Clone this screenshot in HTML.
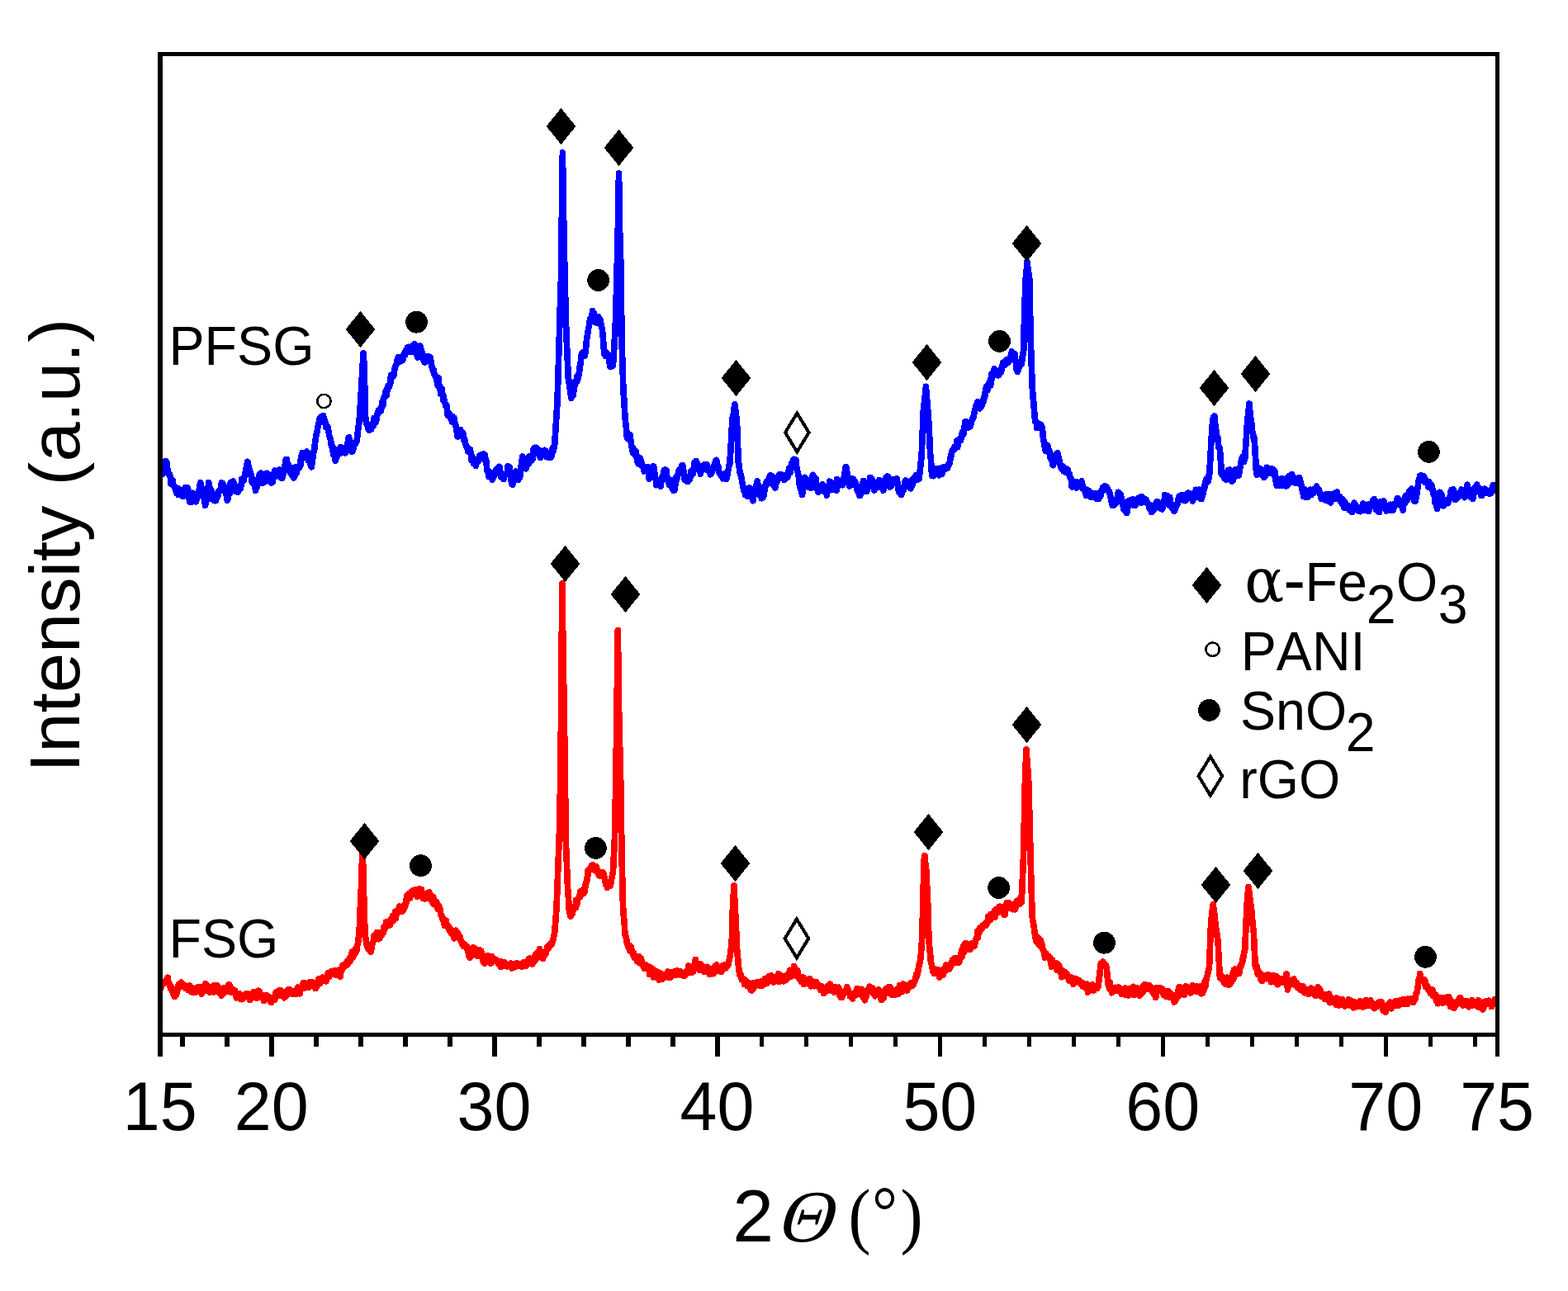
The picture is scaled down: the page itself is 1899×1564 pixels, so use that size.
<!DOCTYPE html>
<html lang="en"><head><meta charset="utf-8"><title>XRD patterns of PFSG and FSG</title>
<style>
html,body{margin:0;padding:0;background:#fff;}
body{width:1899px;height:1564px;overflow:hidden;}
svg{display:block;}
text{font-family:"Liberation Sans",Arial,Helvetica,sans-serif;fill:#000;font-kerning:none;}
.sym{font-family:"Liberation Serif","DejaVu Serif",serif;}
.dsym{font-family:"DejaVu Serif","Liberation Serif",serif;}
.curve{fill:none;stroke-width:7.7;stroke-linejoin:round;stroke-linecap:butt;}
</style></head><body>
<svg width="1899" height="1564" viewBox="0 0 1899 1564" role="img" aria-label="XRD patterns of PFSG and FSG">
<rect x="0" y="0" width="1899" height="1564" fill="#fff"/>
<g id="curves" shape-rendering="crispEdges">
<polyline class="curve" stroke="#0000ff" points="194.3,576.3 194.98,571.3 195.66,574.2 196.34,574.3 197.02,568.5 197.7,564.7 198.38,566.6 199.06,566.6 199.74,566.7 200.42,558.7 201.1,560.5 201.76,559.1 202.43,567 203.09,568.5 203.75,573.7 204.41,574.4 205.07,573.6 205.74,575.4 206.4,578.4 207.05,586.1 207.7,580.8 208.35,581 209,581.6 209.65,586.6 210.3,588.3 210.95,588.5 211.6,591.1 212.26,591.8 212.93,593.7 213.59,595.8 214.25,597.8 214.91,596.2 215.57,591.6 216.24,599.5 216.9,598.4 217.56,594.2 218.22,597.4 218.89,593.5 219.55,597.4 220.21,594.9 220.88,597.4 221.54,601.4 222.2,596.3 222.86,595.5 223.52,597.4 224.19,590.6 224.85,592.9 225.51,594.9 226.18,592.1 226.84,592.8 227.5,591.1 228.2,596.8 228.9,600.9 229.6,607.9 230.2,608 230.8,602.6 231.4,608.6 232,600.5 232.6,602.3 233.2,598.9 233.8,597.4 234.5,601.5 235.2,598.5 235.9,604.4 236.6,602.7 237.3,607.9 238,605.8 238.61,604 239.22,600.7 239.84,596.8 240.45,596.3 241.06,593.3 241.68,592.3 242.29,586.8 242.9,584.7 243.53,588.5 244.17,591.5 244.8,594.3 245.43,597.2 246.07,600.2 246.7,602.2 247.33,604.7 247.97,608.6 248.6,612.2 249.2,609.1 249.8,606.5 250.4,601.8 251,598 251.6,593.6 252.2,589.6 252.8,584.7 253.46,587.6 254.12,591.6 254.79,596.8 255.45,593.3 256.11,594.6 256.78,604.4 257.44,602 258.1,603.7 258.8,606 259.5,605.2 260.2,599.1 260.9,606.7 261.6,606.3 262.3,601.4 263,602.5 263.7,600.3 264.4,599.5 265,594.9 265.6,595 266.2,594.2 266.8,594.2 267.4,590.9 268,587 268.6,584.7 269.27,590.2 269.95,586 270.62,592.1 271.29,594.7 271.96,592.5 272.64,590 273.31,594.3 273.98,599.2 274.65,601.7 275.33,606.3 276,603.7 276.66,598.4 277.32,598.7 277.99,598 278.65,593.3 279.31,585 279.98,591 280.64,592.4 281.3,583.7 281.93,587.5 282.56,583 283.19,585.4 283.82,588.1 284.45,594.6 285.08,591.1 285.71,590.7 286.34,595.7 286.97,592 287.6,593.2 288.27,596.2 288.95,589.4 289.62,589 290.29,591.4 290.96,592.4 291.64,589.2 292.31,587.3 292.98,580.4 293.65,582.5 294.33,581.9 295,582.6 295.69,578.5 296.37,576.8 297.06,572.2 297.74,570.4 298.43,566.1 299.11,562.2 299.8,559.4 300.47,562.3 301.14,565.4 301.81,568.7 302.49,569.6 303.16,572.6 303.83,573.8 304.5,578.4 305.13,584.2 305.76,585 306.39,581.7 307.02,582.1 307.65,581.3 308.28,586.5 308.91,587.9 309.54,594.1 310.17,590.5 310.8,591.1 311.5,587.2 312.2,582.4 312.9,584.6 313.6,580.1 314.3,574.8 315,574.2 315.7,576.5 316.4,573.2 317.1,585.6 317.8,584.3 318.5,584.6 319.2,584.7 319.86,583.2 320.52,576.6 321.19,581.2 321.85,576.1 322.51,581.1 323.18,573.3 323.84,574.8 324.5,576.3 325.16,580.8 325.82,583 326.49,576.1 327.15,576.2 327.81,584 328.48,585 329.14,580.9 329.8,584.7 330.44,580.8 331.08,577.8 331.72,574.2 332.36,572 333,570 333.67,574 334.34,572.8 335.01,577.1 335.69,571.6 336.36,571.9 337.03,569.9 337.7,572.8 338.37,569.9 339.04,569.1 339.71,576.5 340.39,579 341.06,577.7 341.73,579.3 342.4,576.3 343.01,574.6 343.63,569.5 344.24,569.3 344.86,565.6 345.47,561.1 346.09,557.1 346.7,559.4 347.35,556.5 347.99,562 348.64,563.7 349.28,563.3 349.93,569.9 350.58,567.7 351.22,570.1 351.87,573.2 352.52,568.8 353.16,566.9 353.81,575.8 354.45,573.1 355.1,576.3 355.8,579 356.5,575.4 357.2,576.3 357.9,574.7 358.6,565.8 359.3,572.6 360,567.8 360.7,566.6 361.4,567.8 362.01,564.8 362.63,566.4 363.24,564.9 363.86,563.4 364.47,554.2 365.09,555.3 365.7,555.2 366.33,548.4 366.96,553.7 367.59,555 368.22,550.5 368.85,552.7 369.48,552.1 370.11,553.6 370.74,547.9 371.37,547.2 372,548.9 372.66,548.9 373.32,558 373.99,558.3 374.65,557 375.31,560 375.98,561.8 376.64,564.2 377.3,565.7 377.95,560.9 378.6,556.3 379.25,550.5 379.9,546.9 380.55,545.6 381.2,539.6 381.85,534.5 382.5,529.9 383.11,526.6 383.73,524 384.34,521.4 384.96,516.9 385.57,515.1 386.19,512.2 386.8,508.8 387.5,506.4 388.2,505.9 388.9,505 389.6,504.4 390.3,509.5 391,506.7 391.63,503.7 392.26,508.5 392.89,508.8 393.52,510 394.15,513.3 394.78,517.4 395.41,515.7 396.04,516.4 396.67,516.3 397.3,519.3 398,522.6 398.7,527.6 399.4,529.3 400.1,531.8 400.8,535.1 401.5,540.4 402.2,539.8 402.9,541.4 403.6,550.9 404.3,551.3 405,552.1 405.7,555.2 406.34,558.2 406.98,551.2 407.62,554.1 408.26,553.2 408.9,545.6 409.54,544.5 410.18,545.2 410.82,549.3 411.46,549.3 412.1,544.6 412.8,541.6 413.5,548.5 414.2,545 414.9,545.4 415.6,545.4 416.3,546.6 417,542.9 417.7,545.6 418.4,548.9 419,544.5 419.6,544.2 420.2,543.7 420.8,541.1 421.4,534.9 422,530.2 422.6,529.9 423.24,532.7 423.88,535.3 424.52,542.8 425.16,544.2 425.8,546.8 426.43,543.5 427.06,546.9 427.69,544.5 428.32,537.2 428.95,539 429.58,538.5 430.21,538 430.84,537 431.47,534.4 432.1,534.1 432.7,529.6 433.3,523.7 433.9,518.5 434.5,515 435,511.4 435.5,503.6 436.03,496.4 436.57,488.9 437.1,480.6 437.73,466.8 438.37,457.3 439,446 439.5,438 440,427.7 440.55,435 441.1,446 441.6,464.8 442.1,480.6 442.4,503.6 442.87,506.2 443.33,510.4 443.8,513 444.45,513.4 445.1,515.2 445.75,518.7 446.4,515 447.05,521.3 447.7,515.5 448.35,515.9 449,519.3 449.66,520 450.32,513.7 450.99,514.3 451.65,516.6 452.31,516.1 452.98,506.5 453.64,511.5 454.3,508.8 455,511.8 455.7,509.3 456.4,503.9 457.1,501.5 457.8,500.9 458.5,497.1 459.2,498.2 459.9,497 460.6,495.7 461.3,498 462,492.7 462.7,491.9 463.33,485.7 463.96,490.6 464.59,482.6 465.22,482.2 465.85,481 466.48,478.3 467.11,474.3 467.74,474.3 468.37,479 469,470.8 469.64,467.6 470.28,467.5 470.92,469.5 471.56,467 472.2,465.5 472.84,464.3 473.48,454.9 474.12,456.5 474.76,457.8 475.4,456 476.03,455.3 476.66,455.4 477.29,451 477.92,446.9 478.55,445.6 479.18,442.7 479.81,441.9 480.44,441 481.07,436.1 481.7,434.9 482.33,432.6 482.96,432.5 483.59,437.9 484.22,437.9 484.85,437.7 485.48,437.3 486.11,437.2 486.74,434.9 487.37,436.8 488,434.9 488.66,430.2 489.32,430.9 489.99,427.7 490.65,430.1 491.31,424.7 491.98,424.3 492.64,424 493.3,421.2 493.96,425.7 494.62,420.3 495.29,420.6 495.95,426.1 496.61,421.4 497.28,426.4 497.94,424.2 498.6,426.5 499.3,424.8 500,418.6 500.7,424.3 501.4,419.5 502.1,417 502.8,418.1 503.42,423.9 504.04,425 504.66,430 505.28,430.4 505.9,432.8 506.54,429.6 507.18,427.5 507.82,426.8 508.46,421.8 509.1,419.1 509.8,422.7 510.5,425.8 511.2,426.8 511.9,431.2 512.6,433.3 513.3,437 513.97,433.3 514.65,439.1 515.32,438.3 515.99,436.4 516.66,433.5 517.34,431.9 518.01,437 518.68,435.2 519.35,431.9 520.03,434.9 520.7,434.9 521.36,433 522.03,439.6 522.69,442.4 523.35,445.4 524.01,447.4 524.67,449.6 525.34,448.3 526,453.9 526.7,454.2 527.4,455.3 528.1,457.5 528.8,460.3 529.5,462.7 530.2,466.9 530.9,457.6 531.6,466.3 532.3,466.6 532.93,468.2 533.56,477 534.19,475.5 534.82,470.4 535.45,478.3 536.08,477.8 536.71,484.2 537.34,480.5 537.97,485.3 538.6,487.7 539.21,489.4 539.83,491.6 540.44,492.4 541.06,491 541.67,499.5 542.29,503.1 542.9,502.4 543.53,502.8 544.16,500.8 544.79,504.9 545.42,506.5 546.05,505.1 546.68,506.2 547.31,510.8 547.94,504.4 548.57,506.6 549.2,508.8 549.9,505.9 550.6,511.7 551.3,514.1 552,515.9 552.7,519.1 553.4,523.5 554.03,528.7 554.66,523.4 555.29,523.8 555.92,528.7 556.55,524.4 557.18,520.5 557.81,526.2 558.44,522.6 559.07,528.7 559.7,525.7 560.28,524 560.87,527.6 561.45,526.5 562.03,533 562.62,531.6 563.2,536.2 563.9,538.1 564.6,539.3 565.3,542.5 565.95,541.6 566.6,546.7 567.25,547.5 567.9,545.9 568.55,544 569.2,544.3 569.85,548.9 570.5,548.9 571.14,557.6 571.78,552.7 572.42,554.3 573.06,557 573.7,561.5 574.36,558.2 575.03,558.3 575.69,560.1 576.35,564.5 577.01,560.2 577.67,558.5 578.34,556.4 579,559.4 579.6,558.8 580.2,556.9 580.8,552.4 581.4,551.6 582,553.3 582.6,555 583.2,551 583.9,552.8 584.6,551.6 585.3,550.1 586,551.9 586.7,551 587.4,551 588.04,558.3 588.68,557.9 589.32,563.1 589.96,569.7 590.6,572.1 591.3,572.1 592,577.5 592.7,574.1 593.4,575.3 594.1,574.6 594.8,572.4 595.5,574.3 596.2,581.4 596.9,578.4 597.54,578.5 598.18,576.7 598.82,576 599.46,573.3 600.1,570 600.8,572.3 601.5,568.2 602.2,567.8 602.9,570.6 603.6,566.3 604.3,566.8 604.94,565.4 605.58,570.8 606.22,572.2 606.86,577.8 607.5,578.4 608.15,575.9 608.8,574.4 609.45,575.9 610.1,580.6 610.75,575.6 611.4,575.7 612.05,574.8 612.7,574.2 613.31,573.8 613.93,574.4 614.54,574.5 615.16,564.7 615.77,571.9 616.39,566.9 617,565.7 617.62,569.5 618.24,577.2 618.86,578.1 619.48,585.3 620.1,586.8 620.8,587.4 621.5,579.7 622.2,581.9 622.9,580.5 623.6,575.9 624.3,574.2 624.96,571.2 625.62,574.3 626.29,575.2 626.95,573.2 627.61,581.4 628.27,576.7 628.94,576.8 629.6,578.4 630.24,572.9 630.88,567.2 631.52,562.1 632.16,558.3 632.8,553.1 633.4,556.1 634,555.9 634.6,559.1 635.2,557.6 635.8,565.1 636.4,563.6 637,567.8 637.6,566.3 638.2,561.1 638.8,560.1 639.4,560 640,553.9 640.6,561.4 641.2,553.1 641.84,553.4 642.48,553.7 643.12,552.3 643.76,558.2 644.4,555.2 645.04,556.5 645.68,551 646.32,543.7 646.96,543.6 647.6,542.5 648.25,545.3 648.9,543.2 649.55,542.4 650.2,543.4 650.85,545.7 651.5,548.9 652.15,548.1 652.8,551 653.47,550.6 654.15,554 654.82,554 655.49,546.2 656.16,549.6 656.84,548.4 657.51,547.2 658.18,550.1 658.85,545.7 659.53,545.3 660.2,545.7 660.84,546.1 661.48,548.4 662.12,553.7 662.76,553.8 663.4,553.1 664.05,549.1 664.7,551.3 665.35,550.1 666,554.3 666.65,552.4 667.3,554 667.95,551.1 668.6,551 669.24,543.1 669.88,547.2 670.52,544 671.16,542.3 671.8,538.3 672.44,526.4 673.08,518.2 673.72,507 674.36,496.9 675,487.7 675.62,467.1 676.25,446 676.88,423.2 677.5,403.3 678.13,379.8 678.77,358 679.4,340 679.9,299.2 680.4,260 680.9,224.1 681.4,185 681.95,222.4 682.5,260 683.03,283.6 683.57,312.1 684.1,340 684.7,361.7 685.3,384.5 685.9,403.3 686.5,418.6 687.1,431.2 687.7,444.7 688.3,458.1 688.9,460.7 689.5,465.6 690.1,469.8 690.7,473.2 691.3,478.4 691.9,482.4 692.55,479.1 693.2,478.9 693.85,479.7 694.5,475.5 695.15,472.4 695.8,468.3 696.45,462.5 697.1,464.5 697.71,462.4 698.33,462.4 698.94,456.2 699.56,460.8 700.17,454.5 700.79,454.7 701.4,451.8 702.02,446.7 702.64,440.8 703.26,440.8 703.88,431.6 704.5,428.6 705.1,431.2 705.7,427 706.3,429.4 706.9,426.3 707.5,427.4 708.1,431.2 708.7,428.6 709.4,425 710.1,414.7 710.8,409.6 711.44,405.8 712.08,403.3 712.72,397.3 713.36,395.4 714,390.6 714.6,386.6 715.2,388.7 715.8,386.4 716.4,386.8 717,382.6 717.6,376.5 718.2,378 718.84,382 719.48,379.1 720.12,386.4 720.76,390.6 721.4,388.5 722.06,389.9 722.73,386.4 723.39,391.1 724.05,387.9 724.71,383.7 725.38,385.9 726.04,390.6 726.7,386.4 727.32,389.4 727.94,393.3 728.56,396.1 729.18,397.6 729.8,403.3 730.32,408.9 730.85,416.4 731.38,422.6 731.9,428.6 732.51,428.1 733.13,425.6 733.74,431.6 734.36,430.6 734.97,431.5 735.59,431.6 736.2,428.6 736.82,431.1 737.44,434.1 738.06,438.5 738.68,443.6 739.3,444.4 739.94,439.1 740.58,442.5 741.22,440.5 741.86,443.5 742.5,441.3 743.12,433.9 743.75,421.9 744.38,411.1 745,403.3 745.63,382.3 746.27,360.7 746.9,340 747.6,307.8 748.3,280 748.9,246.2 749.5,210 750.05,244.3 750.6,280 751.2,301 751.8,318.2 752.4,340 752.8,403.3 753.43,425.9 754.07,443.5 754.7,466.6 755.35,478.6 756,485.2 756.65,500.2 757.3,508.8 757.82,513.6 758.35,517.2 758.88,524.3 759.4,529.9 760,531.1 760.6,527.7 761.2,529.4 761.8,531.9 762.4,530.9 763,526.9 763.6,532 764.12,534.5 764.65,538.9 765.18,541.9 765.7,544.6 766.4,547.8 767.1,543.4 767.8,549.8 768.5,548.3 769.2,547.3 769.9,546.8 770.42,551.5 770.95,554.4 771.48,556.4 772,559.4 772.6,557.4 773.2,561.7 773.8,559.7 774.4,554.3 775,554.8 775.6,558.9 776.2,557.3 776.84,559.7 777.48,562.3 778.12,565.4 778.76,566.1 779.4,567.8 780.06,570.8 780.73,565.6 781.39,565.9 782.05,567.7 782.71,568.6 783.38,568.4 784.04,570.1 784.7,565.7 785.2,571.4 785.7,578.4 786.36,580.3 787.03,577.1 787.69,571.5 788.35,572.7 789.01,577.6 789.67,572.6 790.34,567.8 791,567.8 791.64,564.8 792.28,570.8 792.92,573.5 793.56,578.2 794.2,580.5 794.9,587.7 795.6,584.7 796.3,584.5 797,582.1 797.7,582.4 798.4,586.8 799.04,585 799.68,583 800.32,589.2 800.96,580.6 801.6,580.5 802.3,576.8 803,579.8 803.7,574.9 804.4,569.3 805.1,574.4 805.8,568.9 806.4,570.3 807,569.7 807.6,576.6 808.2,579.3 808.8,579.2 809.4,584.4 810,584.7 810.7,587.7 811.4,583.7 812.1,581.7 812.8,581.7 813.5,587.9 814.2,592.4 814.9,592.5 815.6,594.1 816.3,591.1 816.9,594.1 817.5,586.9 818.1,587.7 818.7,578.4 819.3,582.5 819.9,579.5 820.5,576.3 821.14,574.8 821.78,572.5 822.42,569.4 823.06,571.6 823.7,573.5 824.34,567.7 824.98,568.9 825.62,564.3 826.26,565.6 826.9,563.6 827.42,566.4 827.95,572.6 828.48,576 829,580.5 829.66,581.4 830.33,578.8 830.99,577.5 831.65,579.6 832.31,583.4 832.97,583.5 833.64,579.6 834.3,580.5 834.93,581.5 835.56,580.1 836.19,577.8 836.82,571.1 837.45,575.1 838.08,570.2 838.71,574.9 839.34,572.5 839.97,570.8 840.6,567.8 841.24,560.2 841.88,566.6 842.52,565.4 843.16,558.4 843.8,560.5 844.45,564.5 845.1,563.3 845.75,563.9 846.4,563.8 847.05,564.2 847.7,567.2 848.35,574 849,571 849.66,570.6 850.33,569.7 850.99,566.4 851.65,565.6 852.31,564.8 852.97,563 853.64,567 854.3,563.6 854.97,563.7 855.65,567.8 856.32,563 856.99,569.7 857.66,567.8 858.34,570.7 859.01,569.4 859.68,568 860.35,574.8 861.03,571 861.7,573.1 862.36,571 863.03,567.2 863.69,568.5 864.35,565.2 865.01,565.3 865.67,563.8 866.34,559.2 867,559.4 867.65,557.3 868.3,564.3 868.95,567.5 869.6,568.7 870.25,565.4 870.9,572.2 871.55,573.4 872.2,574.2 872.87,575.6 873.55,576.5 874.22,575 874.89,577.1 875.56,579.7 876.24,576.2 876.91,574.2 877.58,578.5 878.25,579.9 878.93,574.8 879.6,580.5 880.3,576.4 881,575 881.7,570.8 882.4,568 883.1,562.9 883.8,561.5 884.44,552.2 885.08,542.9 885.72,529.6 886.36,518.3 887,508.8 887.6,503.4 888.2,502.4 888.8,497.5 889.4,492.5 890,489.8 890.58,496.2 891.15,500.4 891.72,504.9 892.3,508.8 892.82,519.5 893.35,535 893.88,549.2 894.4,561.5 895,562.8 895.6,568.8 896.2,572.5 896.8,575 897.4,575.6 898,578.6 898.6,582.6 899.3,586.7 900,589.6 900.7,592.8 901.4,595.5 902.1,596.5 902.8,599.5 903.46,597.3 904.12,592.2 904.79,598.5 905.45,601.5 906.11,593 906.77,591.9 907.44,594 908.1,591.1 908.74,594.7 909.38,592.3 910.02,596.7 910.66,598.1 911.3,603.7 911.95,606.7 912.6,596.9 913.25,599 913.9,599.6 914.55,597.1 915.2,593.4 915.85,591.6 916.5,584.7 917.14,582.9 917.78,587.1 918.42,587.7 919.06,590.6 919.7,599.3 920.34,590.1 920.98,598.1 921.62,594.8 922.26,603.7 922.9,601.6 923.55,603.1 924.2,595.9 924.85,601.1 925.5,593.4 926.15,594.7 926.8,589.8 927.45,585.2 928.1,584.7 928.76,582.6 929.42,582.3 930.09,583.3 930.75,580.9 931.41,585.6 932.08,577.9 932.74,576 933.4,576.3 934.06,576.1 934.73,577.8 935.39,577.8 936.05,580.9 936.71,588.1 937.38,587.6 938.04,588.8 938.7,591.1 939.35,587.3 940,582.6 940.6,584.7 941.2,582.5 941.8,582.1 942.4,577.4 943,577.4 943.6,575 944.2,576.3 944.86,576.3 945.53,574.5 946.19,576 946.85,576.9 947.51,577 948.17,577.1 948.84,576.8 949.5,578.4 950.1,581.4 950.7,577.4 951.3,575.6 951.9,578.9 952.5,575.4 953.1,575.4 953.7,578.4 954.4,576.9 955.1,570.2 955.8,566.9 956.5,572.1 957.2,572.5 957.9,567.8 958.6,561.8 959.3,562.6 960,565.4 960.7,556.9 961.4,558.6 962.1,556.4 962.8,558.4 963.4,560.1 964,557.4 964.6,567.8 965.2,567.1 965.8,570.7 966.4,572.1 966.92,575.8 967.45,577.5 967.98,584.5 968.5,588.9 969.12,587.3 969.74,593.2 970.36,592.9 970.98,596.5 971.6,599.5 972.24,595 972.88,592.1 973.52,587.9 974.16,581.2 974.8,578.4 975.46,579.7 976.12,585.1 976.79,583.7 977.45,581.6 978.11,584.6 978.77,585.3 979.44,590.2 980.1,588.9 980.76,587.7 981.42,587.3 982.09,591.1 982.75,579.8 983.41,579.5 984.08,576.2 984.74,575.4 985.4,578.4 986.03,582.5 986.66,582.6 987.29,588 987.92,579.6 988.55,584.4 989.18,592.6 989.81,593.1 990.44,594.4 991.07,596.1 991.7,595.3 992.4,594 993.1,592.4 993.8,591.1 994.5,592 995.2,587.8 995.9,586.8 996.5,589.2 997.1,593.9 997.7,588.2 998.3,590.8 998.9,596 999.5,595.1 1000.1,597.4 1000.76,595.4 1001.42,600.1 1002.09,593.8 1002.75,589.9 1003.41,592.5 1004.08,594 1004.74,583.2 1005.4,584.7 1006.03,583.5 1006.66,586.3 1007.29,584.8 1007.92,593.3 1008.55,589.4 1009.18,587.4 1009.81,590.6 1010.44,587.6 1011.07,588.8 1011.7,591.1 1012.4,590 1013.1,594.1 1013.8,580.7 1014.5,586.6 1015.2,587.8 1015.9,582.6 1016.56,584.9 1017.23,587.7 1017.89,584.6 1018.55,584.1 1019.21,583.5 1019.88,581.8 1020.54,587.7 1021.2,584.7 1021.84,579.2 1022.48,576.9 1023.12,572.6 1023.76,568.4 1024.4,565.7 1025.1,566.5 1025.8,572.9 1026.5,577.5 1027.2,581.4 1027.9,586.2 1028.6,588.9 1029.26,587.7 1029.92,585.5 1030.59,587.4 1031.25,587.6 1031.91,582.4 1032.58,579.9 1033.24,580.5 1033.9,582.6 1034.6,586.8 1035.3,587.9 1036,583.8 1036.7,587.8 1037.4,591.1 1038.1,593.7 1038.8,589.4 1039.5,591.8 1040.2,597.6 1040.9,600.4 1041.6,600.4 1042.3,597.4 1042.94,592.8 1043.58,592.1 1044.22,588.1 1044.86,585.5 1045.5,582.6 1046.1,582.6 1046.7,584.9 1047.3,588 1047.9,594.9 1048.5,593.6 1049.1,594.7 1049.7,595.3 1050.3,592.9 1050.9,589.4 1051.5,587.7 1052.1,587.4 1052.7,584.4 1053.3,583.6 1053.9,578.4 1054.6,581.2 1055.3,582.6 1056,580.2 1056.7,588 1057.4,584.2 1058.1,591.1 1058.75,594.1 1059.41,588.4 1060.06,589.6 1060.72,585.3 1061.37,587.2 1062.02,585.5 1062.68,590.8 1063.33,587.9 1063.98,583.4 1064.64,581.7 1065.29,585.5 1065.95,583.8 1066.6,584.7 1067.22,583.5 1067.84,590.2 1068.46,589.9 1069.08,592.6 1069.7,594.2 1070.34,590.2 1070.98,587.1 1071.62,584.1 1072.26,579.3 1072.9,578.4 1073.6,581.3 1074.3,581.9 1075,577.1 1075.7,583.4 1076.4,587.5 1077.1,586.1 1077.8,590.2 1078.5,587 1079.2,588.9 1079.84,588.1 1080.48,583.6 1081.12,583.8 1081.76,580.4 1082.4,582.2 1083.04,584.5 1083.68,584.5 1084.32,585.4 1084.96,581.7 1085.6,580.5 1086.26,579.8 1086.91,585.9 1087.57,586.4 1088.22,593.9 1088.88,596.5 1089.53,595.9 1090.19,592.1 1090.84,595.9 1091.5,599.5 1092.13,598.2 1092.77,593.8 1093.4,595.3 1094.03,593.9 1094.67,592.5 1095.3,588.9 1095.93,583.9 1096.57,582.1 1097.2,582.6 1097.9,583 1098.6,587.7 1099.3,589.1 1100,588.1 1100.7,587.1 1101.4,588.7 1102.1,589.8 1102.8,591.8 1103.5,588.9 1104.1,589.8 1104.7,581.6 1105.3,587.1 1105.9,584 1106.5,580.1 1107.1,581.4 1107.7,578.4 1108.36,579.5 1109.03,578.8 1109.69,575.4 1110.35,579.8 1111.01,581.3 1111.67,579.8 1112.34,575.8 1113,580.5 1113.64,575.2 1114.28,569.7 1114.92,563.1 1115.56,557.5 1116.2,551 1116.9,532.9 1117.6,514.9 1118.3,498.2 1118.92,493 1119.54,485.7 1120.16,480.5 1120.78,477.4 1121.4,468.3 1122.04,477.4 1122.68,484.7 1123.32,490.3 1123.96,500.8 1124.6,508.8 1125.12,520.4 1125.65,528.9 1126.17,540.1 1126.7,551 1127.4,556.4 1128.1,568.6 1128.8,576.3 1129.4,573.4 1130,575.8 1130.6,576.5 1131.2,571 1131.8,573 1132.4,569.7 1133,567.8 1133.66,568 1134.33,568.6 1134.99,567.8 1135.65,574.6 1136.31,574.3 1136.97,569.8 1137.64,575.8 1138.3,574.2 1138.96,571.1 1139.62,567.9 1140.29,574.4 1140.95,566.4 1141.61,572.2 1142.27,568.4 1142.94,569.3 1143.6,565.7 1144.26,566.9 1144.92,568.4 1145.59,565.9 1146.25,566.3 1146.91,565.1 1147.58,567.2 1148.24,562.8 1148.9,563.6 1149.6,562.2 1150.3,560.1 1151,555.1 1151.7,553 1152.4,548.9 1153.1,546.8 1153.7,545.4 1154.3,546.3 1154.9,544 1155.5,541.9 1156.1,543.6 1156.7,543.6 1157.3,542.5 1157.9,542.2 1158.5,542.1 1159.1,533.9 1159.7,541.7 1160.3,536 1160.9,533.1 1161.5,534.1 1162.16,532 1162.83,533.2 1163.49,533.4 1164.15,528.9 1164.81,529.3 1165.47,523.3 1166.14,527.2 1166.8,525.7 1167.33,521.8 1167.85,517.7 1168.38,515.8 1168.9,510.9 1169.56,516.7 1170.23,515.4 1170.89,511.1 1171.55,518.3 1172.21,513.9 1172.88,515.5 1173.54,514.8 1174.2,517.2 1174.8,517 1175.4,515.7 1176,513.1 1176.6,510.6 1177.2,509.3 1177.8,507.1 1178.4,506.7 1179.1,505.2 1179.8,500.3 1180.5,498 1181.2,495.1 1181.9,491.6 1182.6,489.8 1183.23,489.4 1183.86,486.8 1184.49,491.6 1185.12,492.2 1185.75,490 1186.38,494.9 1187.01,489 1187.64,493 1188.27,493 1188.9,491.9 1189.51,488 1190.13,486.4 1190.74,487.1 1191.36,482.4 1191.97,480.6 1192.59,481.3 1193.2,475 1193.85,474.6 1194.5,468.2 1195.15,469.8 1195.8,473.1 1196.45,469.4 1197.1,465.7 1197.75,463.6 1198.4,466.6 1199.04,465.6 1199.68,467 1200.32,457.4 1200.96,453 1201.6,458.5 1202.24,453.7 1202.88,452.5 1203.52,450.5 1204.16,447 1204.8,447.6 1205.45,449.6 1206.1,451.7 1206.75,451 1207.4,449.2 1208.05,454.4 1208.7,452 1209.35,454.7 1210,453.9 1210.66,449.5 1211.33,452.1 1211.99,450.5 1212.65,450.1 1213.31,444.8 1213.97,444.1 1214.64,439.4 1215.3,439.2 1215.96,441.7 1216.62,441.4 1217.29,442.2 1217.95,438.1 1218.61,436.2 1219.27,439 1219.94,438.6 1220.6,439.2 1221.2,435.6 1221.8,437.9 1222.4,437.3 1223,434.2 1223.6,434.7 1224.2,431.2 1224.8,428.6 1225.4,425.9 1226,427 1226.6,427.6 1227.2,430.5 1227.8,431.2 1228.4,429 1229,428.6 1229.7,436.3 1230.4,440.1 1231.1,447.6 1231.71,446.7 1232.33,450.5 1232.94,447 1233.56,448.1 1234.17,440.4 1234.79,440.4 1235.4,443.4 1236.1,438.5 1236.8,441.3 1237.5,440.5 1238.2,431.8 1238.9,428.4 1239.6,428.6 1240.1,404 1240.6,382.2 1241.1,366.9 1241.6,354.8 1242.1,340 1242.7,331.9 1243.3,327.3 1243.9,317 1244.52,322.6 1245.14,325.3 1245.76,331.1 1246.38,335.2 1247,340 1247.5,372.7 1248,403.3 1248.7,425.7 1249.4,445 1250.1,466.6 1250.74,475.9 1251.38,483.4 1252.02,490.5 1252.66,499 1253.3,506.7 1253.94,510.7 1254.58,510 1255.22,511.1 1255.86,518.6 1256.5,517.2 1257.15,517.2 1257.8,515.6 1258.45,518.5 1259.1,514.2 1259.75,517.4 1260.4,514.2 1261.05,516 1261.7,517.2 1262.34,519.4 1262.98,525.5 1263.62,532.4 1264.26,535.5 1264.9,540.4 1265.56,537.6 1266.23,546.2 1266.89,540.3 1267.55,546.6 1268.21,541.6 1268.88,539.5 1269.54,547.6 1270.2,544.6 1270.85,545.8 1271.5,551.5 1272.15,555 1272.8,550.5 1273.45,556.7 1274.1,557.3 1274.75,562.9 1275.4,563.6 1276.06,561.7 1276.73,556.5 1277.39,558.3 1278.05,558.4 1278.71,553.6 1279.38,554.1 1280.04,549.3 1280.7,548.9 1281.36,551.1 1282.03,554.6 1282.69,556.4 1283.35,561.9 1284.01,563.3 1284.67,565.4 1285.34,567.4 1286,567.8 1286.66,568.2 1287.33,564.8 1287.99,570.7 1288.65,570.8 1289.31,568.4 1289.97,567.1 1290.64,567.7 1291.3,567.8 1291.92,572.4 1292.54,571.2 1293.16,569 1293.78,572.5 1294.4,574.2 1295.1,574.2 1295.8,577.9 1296.5,578.1 1297.2,580.2 1297.9,588.8 1298.6,586.8 1299.21,590 1299.83,583.8 1300.44,585 1301.06,586.8 1301.67,587.3 1302.29,584.8 1302.9,588.9 1303.6,591 1304.3,583.8 1305,589.8 1305.7,589.5 1306.4,586.2 1307.1,585.1 1307.8,586.7 1308.5,586.6 1309.2,585.8 1309.86,582.8 1310.53,585.3 1311.19,591.6 1311.85,591.3 1312.51,591.9 1313.17,591.8 1313.84,594 1314.5,597.4 1315.15,595.1 1315.8,600.4 1316.45,593.2 1317.1,600.4 1317.75,597.4 1318.4,596.4 1319.05,596.1 1319.7,595.3 1320,597.4 1320.64,596.8 1321.28,602.5 1321.92,600.1 1322.56,599 1323.2,599.5 1323.9,599.7 1324.6,601 1325.3,597.8 1326,600.5 1326.7,600.1 1327.4,604 1328.1,604.4 1328.8,598.2 1329.5,603.7 1330.16,602.1 1330.83,604.3 1331.49,597 1332.15,596.3 1332.81,601.2 1333.47,597.1 1334.14,595.1 1334.8,595.3 1335.43,590.9 1336.07,593.7 1336.7,590.6 1337.33,591.6 1337.97,591.2 1338.6,588.9 1339.26,591.8 1339.91,589.9 1340.57,590.2 1341.23,592.7 1341.89,593.2 1342.54,594.9 1343.2,595.3 1343.8,597 1344.4,599.8 1345,601.8 1345.6,604.2 1346.2,607.6 1346.8,611.4 1347.4,612.2 1348.1,610 1348.8,612.4 1349.5,611 1350.2,609.7 1350.9,610.5 1351.6,607.9 1352.27,605 1352.94,606.8 1353.61,604.7 1354.29,596.3 1354.96,602.1 1355.63,601.4 1356.3,598.4 1356.93,606.1 1357.57,600.1 1358.2,605.6 1358.83,608.6 1359.47,607.3 1360.1,612.2 1360.72,616.8 1361.34,616 1361.96,613.8 1362.58,614 1363.2,618.5 1363.84,616.1 1364.48,621.5 1365.12,620.6 1365.76,607.3 1366.4,607.2 1367.04,612.7 1367.68,609.3 1368.32,606.6 1368.96,608.7 1369.6,605.8 1370.26,606.6 1370.92,607.7 1371.59,608.1 1372.25,604.9 1372.91,612.1 1373.58,607.7 1374.24,612.6 1374.9,610 1375.55,611.5 1376.2,609.4 1376.85,609.2 1377.5,608.3 1378.15,603.9 1378.8,606.8 1379.45,608.5 1380.1,606.9 1380.74,602.3 1381.38,602.4 1382.02,609.3 1382.66,608.3 1383.3,601.8 1383.94,606.9 1384.58,605.3 1385.22,607.9 1385.86,604.1 1386.5,604.8 1387.15,605.4 1387.8,605.1 1388.45,608.9 1389.1,609.2 1389.75,609 1390.4,611 1391.05,611.1 1391.7,614.3 1392.3,616.6 1392.9,612.7 1393.5,611.8 1394.1,614.1 1394.7,620.3 1395.3,616.5 1395.9,618.5 1396.51,618.9 1397.13,617.8 1397.74,613 1398.36,615.2 1398.97,613.1 1399.59,610.3 1400.2,609 1400.9,607.9 1401.6,610.5 1402.3,607.9 1403,611.5 1403.7,611.5 1404.4,615.2 1405.1,615.7 1405.8,613.8 1406.5,616.4 1407.2,617 1407.9,616.2 1408.6,611.3 1409.3,607.3 1410,609 1410.7,599.6 1411.4,602.4 1412.1,603.9 1412.8,600.5 1413.46,607.4 1414.12,601.1 1414.79,608.7 1415.45,612 1416.11,612.3 1416.77,602.3 1417.44,612.8 1418.1,611.1 1418.76,612.3 1419.42,615.2 1420.09,612.6 1420.75,612.1 1421.41,613.8 1422.08,619.2 1422.74,618.1 1423.4,616.4 1424.1,613.3 1424.8,612.9 1425.5,612 1426.2,608.8 1426.9,604.9 1427.6,602.7 1428.27,601 1428.95,600.8 1429.62,601.8 1430.29,601.5 1430.96,599.7 1431.64,599.7 1432.31,605.8 1432.98,600.3 1433.65,599.9 1434.33,603.5 1435,603.7 1435.66,606.7 1436.33,605.9 1436.99,600.6 1437.65,598.2 1438.31,598.9 1438.97,597.2 1439.64,597.5 1440.3,598.4 1440.9,601 1441.5,597.9 1442.1,599.9 1442.7,602.5 1443.3,604.4 1443.9,603.6 1444.5,606.9 1445.15,603.4 1445.8,601.1 1446.45,600.8 1447.1,603.1 1447.75,599.6 1448.4,593.3 1449.05,599.3 1449.7,596.3 1450.34,596.6 1450.98,594.9 1451.62,597.2 1452.26,593.3 1452.9,594.4 1453.54,602.7 1454.18,604.6 1454.82,604.6 1455.46,599 1456.1,601.6 1456.72,598.7 1457.34,596.8 1457.96,591 1458.58,592.2 1459.2,586.8 1459.86,583.7 1460.53,585.7 1461.19,580.4 1461.85,583.6 1462.51,581.5 1463.17,583.5 1463.84,576.2 1464.5,578.4 1465.2,565.7 1465.9,555.6 1466.6,540.4 1467.12,530.8 1467.65,525.1 1468.17,517.3 1468.7,508.8 1469.4,505.9 1470.1,504.9 1470.8,504.1 1471.44,511.2 1472.08,516 1472.72,520.4 1473.36,525.1 1474,529.9 1474.64,529.3 1475.28,535.2 1475.92,542.5 1476.56,542.9 1477.2,542.5 1477.9,551.2 1478.6,560.7 1479.3,574.2 1479.96,572.9 1480.62,575.7 1481.29,574.2 1481.95,575.4 1482.61,577.8 1483.27,579.9 1483.94,578.5 1484.6,578.4 1485.2,581 1485.8,572.6 1486.4,577 1487,576 1487.6,569.7 1488.2,576.5 1488.8,572.1 1489.4,569.1 1490,570.5 1490.6,581.9 1491.2,580.5 1491.8,579.2 1492.4,583.1 1493,580.5 1493.64,581.4 1494.28,572.7 1494.92,574.9 1495.56,575.2 1496.2,568.9 1496.8,569.5 1497.4,571.2 1498,570.8 1498.6,575.2 1499.2,572.6 1499.8,573.6 1500.4,576.3 1501.02,570.8 1501.64,567.4 1502.26,565.2 1502.88,561.8 1503.5,557.3 1504.11,555.9 1504.73,553.8 1505.34,557.4 1505.96,557.1 1506.57,559.4 1507.19,554.1 1507.8,555.2 1508.33,545.6 1508.85,538 1509.38,530.4 1509.9,519.3 1510.52,513.2 1511.14,507.1 1511.76,499.9 1512.38,494.7 1513,489.2 1513.64,496.6 1514.28,502.4 1514.92,508.8 1515.56,511 1516.2,519.3 1516.84,523.9 1517.48,524.8 1518.12,530.3 1518.76,529.7 1519.4,536.2 1520.1,548 1520.8,558.9 1521.5,572.1 1522.1,575.1 1522.7,571.2 1523.3,573.9 1523.9,568.4 1524.5,574.6 1525.1,567.2 1525.7,567.8 1526.36,574.5 1527.03,569.1 1527.69,569 1528.35,575.6 1529.01,573.3 1529.67,575.6 1530.34,573.3 1531,578.4 1531.65,576.2 1532.3,576.3 1532.95,572.8 1533.6,574.8 1534.25,566.3 1534.9,573.8 1535.55,568.9 1536.2,568.9 1536.84,573.3 1537.48,568.3 1538.12,567.7 1538.76,568.5 1539.4,570.7 1540.04,571.8 1540.68,569.1 1541.32,568.3 1541.96,572 1542.6,571 1543.2,575.6 1543.8,570.6 1544.4,574.8 1545,578.1 1545.6,587.1 1546.2,588 1546.8,586.8 1547.46,588.5 1548.12,587.2 1548.79,582.1 1549.45,587.9 1550.11,582.9 1550.77,581.4 1551.44,588.6 1552.1,582.6 1552.75,579.6 1553.4,588.1 1554.05,585.5 1554.7,583.1 1555.35,587 1556,584.9 1556.65,588.6 1557.3,588.9 1557.94,584.8 1558.58,580.9 1559.22,588.1 1559.86,578.2 1560.5,577.3 1561.2,580.7 1561.9,578.3 1562.6,581 1563.3,576.1 1564,577.3 1564.7,574.7 1565.4,584.3 1566.1,583.3 1566.8,582.6 1567.47,579 1568.15,584.4 1568.82,583.4 1569.49,585.6 1570.16,581.9 1570.84,583.5 1571.51,582.4 1572.18,582.5 1572.85,580 1573.53,578.6 1574.2,579.5 1574.84,583.7 1575.48,587.6 1576.12,587.3 1576.76,590.5 1577.4,595.3 1578.06,595.7 1578.73,601.5 1579.39,596.3 1580.05,592.6 1580.71,600.2 1581.38,600.6 1582.04,602.5 1582.7,599.5 1583.4,599.6 1584.1,602.5 1584.8,596.1 1585.5,600.2 1586.2,597.6 1586.9,593.3 1587.6,595.5 1588.3,599.5 1589,595.3 1589.7,598 1590.4,593.3 1591.1,597.1 1591.8,596 1592.5,595.5 1593.2,593.3 1593.9,592.9 1594.6,589.2 1595.3,591.1 1596,592.3 1596.7,594.3 1597.4,593.2 1598.1,595.9 1598.8,598.6 1599.5,600.1 1600.2,603.9 1600.9,599.4 1601.6,603.7 1602.24,602.4 1602.88,604.1 1603.52,602 1604.16,603.8 1604.8,601.3 1605.44,605.8 1606.08,601.6 1606.72,598.8 1607.36,603.9 1608,601.6 1608.6,606.9 1609.2,598.6 1609.8,603 1610.4,604.2 1611,607.5 1611.6,608.8 1612.2,605.8 1612.84,603.9 1613.48,598.4 1614.12,603.3 1614.76,602.7 1615.4,598.4 1616.06,600 1616.73,599.2 1617.39,597 1618.05,604.6 1618.72,596.5 1619.38,595.9 1620.05,603.2 1620.71,601.6 1621.37,602.9 1622.04,602.3 1622.7,601.6 1623.31,607.7 1623.93,608.4 1624.54,604.1 1625.16,609.9 1625.77,605.1 1626.39,604.9 1627,611.1 1627.65,614.9 1628.3,610.7 1628.95,608.1 1629.6,612.7 1630.25,611.2 1630.9,615 1631.55,613.8 1632.2,614.3 1632.81,612.6 1633.43,613.2 1634.04,617.8 1634.66,613.5 1635.27,616.9 1635.89,614.2 1636.5,617.4 1637.1,617.8 1637.7,620.4 1638.3,616.3 1638.9,617 1639.5,614.2 1640.1,609.3 1640.7,611.1 1641.35,611.3 1642,613.4 1642.65,615.5 1643.3,613.6 1643.95,618.1 1644.6,615.4 1645.25,618.7 1645.9,619.5 1646.51,618.6 1647.13,614.5 1647.74,619.7 1648.36,616.1 1648.97,615.3 1649.59,614 1650.2,613.2 1650.9,610.2 1651.6,610.4 1652.3,612.5 1653,618.4 1653.7,614.5 1654.4,618.5 1655.1,614.4 1655.8,615.5 1656.5,618.5 1657.15,616.2 1657.79,619.6 1658.44,610.9 1659.08,614.1 1659.73,614.8 1660.38,613 1661.02,611.6 1661.67,612.9 1662.32,610.5 1662.96,605.9 1663.61,609.6 1664.25,604.6 1664.9,605.8 1665.51,606.8 1666.13,613.8 1666.74,617.8 1667.36,617.8 1667.97,616.8 1668.59,615.4 1669.2,619.5 1669.82,615.5 1670.44,620.4 1671.06,614.8 1671.68,608 1672.3,610 1673,614.9 1673.7,612.6 1674.4,615.2 1675.1,613.1 1675.8,607 1676.5,610.8 1677.2,613 1677.9,613.4 1678.6,614.3 1679.25,618.9 1679.91,613.1 1680.56,615 1681.22,615.4 1681.87,615.7 1682.52,613.3 1683.18,613.1 1683.83,611.3 1684.48,618.2 1685.14,617 1685.79,618.4 1686.45,615.2 1687.1,618.5 1687.76,616.7 1688.42,612.1 1689.09,610.1 1689.75,612.1 1690.41,611.1 1691.08,609.1 1691.74,605.4 1692.4,603.7 1693.1,603.9 1693.8,610.2 1694.5,611.1 1695.2,607.1 1695.9,607.1 1696.6,612.5 1697.3,613.6 1698,611.5 1698.7,615.3 1699.3,618.3 1699.9,606.1 1700.5,608 1701.1,609.4 1701.7,609.8 1702.3,600.7 1702.9,603.7 1703.56,601.4 1704.23,605.7 1704.89,604.5 1705.55,598.8 1706.21,598.6 1706.88,594.9 1707.54,597.5 1708.2,595.3 1708.9,593.5 1709.6,592.3 1710.3,594.5 1711,600.1 1711.7,597.4 1712.4,605.4 1713.1,607.1 1713.8,607.5 1714.5,605.8 1715.15,602.5 1715.8,599 1716.45,593.5 1717.1,590.2 1717.75,585.4 1718.4,580.5 1719.1,582.2 1719.8,576.6 1720.5,577.1 1721.2,575.6 1721.9,580.2 1722.6,577.3 1723.26,579.7 1723.92,576.9 1724.59,577.3 1725.25,579.4 1725.91,584.4 1726.58,582.5 1727.24,583.1 1727.9,584.7 1728.56,583 1729.23,584.9 1729.89,589.8 1730.55,583.8 1731.21,585 1731.88,589.8 1732.54,588.6 1733.2,586.8 1733.82,587.7 1734.44,593.4 1735.06,592.6 1735.68,597.8 1736.3,599.5 1736.91,596.5 1737.53,601.5 1738.14,609.3 1738.76,607.5 1739.37,609.5 1739.99,614.2 1740.6,616.4 1741.22,612.4 1741.84,607.7 1742.46,603.4 1743.08,602.9 1743.7,596.3 1744.36,602.2 1745.03,600.7 1745.69,598.2 1746.35,601.7 1747.01,604.1 1747.67,608 1748.34,612.8 1749,610 1749.66,608 1750.33,609.4 1750.99,607.2 1751.65,608.3 1752.31,605.5 1752.97,607.9 1753.64,609.6 1754.3,605.8 1754.95,603.3 1755.6,602 1756.25,601.8 1756.9,596.3 1757.55,603.7 1758.2,593.3 1758.85,594.7 1759.5,594.2 1760.16,592.9 1760.83,600.8 1761.49,596.4 1762.15,597.5 1762.81,605.5 1763.47,601 1764.14,600.3 1764.8,603.7 1765.46,602.4 1766.12,601.6 1766.79,597.7 1767.45,598 1768.11,596.6 1768.77,597.9 1769.44,596.7 1770.1,593.2 1770.74,597.3 1771.38,596.2 1772.02,600.5 1772.66,599.3 1773.3,601.6 1773.92,602.6 1774.54,598.1 1775.16,593.5 1775.78,595.8 1776.4,590 1777.06,587.3 1777.73,590.5 1778.39,592.5 1779.05,596 1779.71,594.5 1780.38,596.2 1781.04,595.8 1781.7,602.7 1782.4,601.5 1783.1,597.5 1783.8,604.3 1784.5,598.8 1785.2,591.8 1785.9,597.2 1786.6,592.3 1787.3,593.5 1788,588.9 1788.66,586.9 1789.33,594.3 1789.99,595.2 1790.65,592 1791.31,591.8 1791.97,594.2 1792.64,597.1 1793.3,597.4 1793.9,600.4 1794.5,600.4 1795.1,599.4 1795.7,593.8 1796.3,592.7 1796.9,593.9 1797.5,592.1 1798.1,592.1 1798.7,592.3 1799.3,593.8 1799.9,597.5 1800.5,595.7 1801.1,597.3 1801.7,597.4 1802.36,596 1803.03,595.5 1803.69,594.5 1804.35,598.3 1805.01,594.8 1805.67,597.7 1806.34,592.3 1807,592.1 1807.66,594.9 1808.33,587.7 1808.99,590.2 1809.65,590.9 1810.31,589 1810.97,590.2 1811.64,587.7 1812.3,590"/>
<polyline class="curve" stroke="#ff0000" points="194.3,1192.6 194.97,1196.6 195.64,1189.4 196.31,1193 196.99,1191.3 197.66,1189.6 198.33,1190.3 199,1191.6 199.7,1189 200.4,1188.9 201.1,1188.9 201.8,1189.3 202.5,1186 203.2,1184.2 203.84,1189.5 204.48,1190.3 205.12,1191.9 205.76,1193.6 206.4,1196.8 207.05,1195.5 207.7,1195.2 208.35,1200.4 209,1201.5 209.65,1204.1 210.3,1205.5 210.95,1202.7 211.6,1207.4 212.26,1203.8 212.93,1201.2 213.59,1205.1 214.25,1200.6 214.91,1199.6 215.57,1195.4 216.24,1192.9 216.9,1194.7 217.56,1192.9 218.22,1194 218.89,1195.3 219.55,1190.1 220.21,1194.7 220.88,1191.6 221.54,1192.3 222.2,1193.7 222.83,1193.1 223.46,1193.3 224.09,1196 224.72,1197.5 225.35,1196.5 225.98,1194.6 226.61,1197.5 227.24,1197.8 227.87,1199.5 228.5,1197.9 229.17,1198.7 229.85,1194.2 230.52,1196.6 231.19,1197.8 231.86,1201.5 232.54,1199.1 233.21,1202.1 233.88,1200.8 234.55,1197.3 235.23,1200.7 235.9,1201.1 236.6,1202.2 237.3,1201.7 238,1196.8 238.7,1201.5 239.4,1198.8 240.1,1196 240.8,1198.6 241.5,1196 242.2,1200 242.86,1196 243.52,1202.5 244.19,1204 244.85,1200.4 245.51,1198.3 246.18,1201.5 246.84,1197 247.5,1195.8 248.16,1193.8 248.82,1191.8 249.49,1199.9 250.15,1192.7 250.81,1193.4 251.48,1197.9 252.14,1200.4 252.8,1201.1 253.46,1198 254.12,1202.3 254.79,1198.7 255.45,1198.8 256.11,1198.8 256.78,1195.4 257.44,1196.8 258.1,1195.8 258.8,1201.9 259.5,1193.9 260.2,1197.1 260.9,1198.4 261.6,1196 262.3,1197.6 263,1193.6 263.7,1197.3 264.4,1198.9 265.03,1199.3 265.66,1202.5 266.29,1202.5 266.92,1199 267.55,1198 268.18,1206.1 268.81,1204.1 269.44,1197.3 270.07,1201.7 270.7,1203.2 271.33,1200.1 271.96,1200.2 272.59,1196.7 273.22,1199.4 273.85,1198.5 274.48,1198.6 275.11,1201.3 275.74,1198.5 276.37,1194.2 277,1196.8 277.64,1192.8 278.28,1196.2 278.92,1200.9 279.56,1200.8 280.2,1197.3 280.84,1202.3 281.48,1200.8 282.12,1198.6 282.76,1201.7 283.4,1201.1 284,1201.7 284.6,1199.9 285.2,1202.6 285.8,1205 286.4,1208.9 287,1203.7 287.6,1207.4 288.26,1207.8 288.93,1207.1 289.59,1206.8 290.25,1203.6 290.91,1209.9 291.57,1209.9 292.24,1210.5 292.9,1206.3 293.55,1207.4 294.2,1210.1 294.85,1207.6 295.5,1208.8 296.15,1205.4 296.8,1206.8 297.45,1205.4 298.1,1206.3 298.74,1203.6 299.38,1205.3 300.02,1203.6 300.66,1203.8 301.3,1205.8 301.94,1205.3 302.58,1211.4 303.22,1211.4 303.86,1210 304.5,1207.4 305.13,1209 305.76,1204.3 306.39,1206.8 307.02,1201.9 307.65,1203.6 308.28,1203.6 308.91,1203.4 309.54,1206.2 310.17,1201.5 310.8,1203.2 311.43,1209.2 312.06,1202.4 312.69,1206.3 313.32,1200.3 313.95,1207.1 314.58,1201.8 315.21,1205.8 315.84,1205.6 316.47,1208.1 317.1,1206.3 317.74,1208.1 318.38,1207.7 319.02,1206.5 319.66,1212.2 320.3,1206.1 320.94,1207.5 321.58,1206.5 322.22,1208.3 322.86,1205.6 323.5,1208.4 324.13,1207.5 324.76,1210.1 325.39,1207.5 326.02,1210.4 326.65,1207.9 327.28,1213.3 327.91,1209.5 328.54,1214.5 329.17,1211.5 329.8,1210.5 330.43,1209.4 331.06,1211.5 331.69,1211.3 332.32,1211.5 332.95,1210.4 333.58,1208.4 334.21,1202.3 334.84,1207 335.47,1203.6 336.1,1203.2 336.8,1203.7 337.5,1205.4 338.2,1199.7 338.9,1204.5 339.6,1206.3 340.3,1200 340.96,1202.3 341.62,1201 342.29,1206.3 342.95,1204.1 343.61,1207.3 344.28,1208.8 344.94,1202.5 345.6,1207.4 346.26,1207.1 346.93,1201.2 347.59,1202.3 348.25,1204.7 348.91,1198.9 349.57,1199.1 350.24,1198.7 350.9,1198.9 351.5,1200.4 352.1,1201.3 352.7,1202.3 353.3,1200.5 353.9,1200.7 354.5,1204.5 355.1,1204.2 355.8,1201.4 356.5,1201.1 357.2,1204.6 357.9,1200.2 358.6,1199.4 359.3,1204.3 360,1200.7 360.7,1196 361.4,1200 362.06,1197.3 362.72,1203.7 363.39,1203.7 364.05,1196.5 364.71,1198.4 365.38,1197.9 366.04,1196.1 366.7,1194.7 367.36,1190.7 368.02,1197.5 368.69,1195.8 369.35,1194.5 370.01,1191.1 370.68,1193.8 371.34,1195.3 372,1195.8 372.63,1194.5 373.26,1195.2 373.89,1193.1 374.52,1196.2 375.15,1194.7 375.78,1189.5 376.41,1190.4 377.04,1192.6 377.67,1189.5 378.3,1190.5 378.96,1194.7 379.62,1190.3 380.29,1193 380.95,1194.6 381.61,1190.7 382.28,1197.6 382.94,1194.5 383.6,1195.8 384.3,1192.3 385,1190.7 385.7,1186.5 386.4,1185.8 387.1,1191.7 387.8,1186.3 388.46,1185.9 389.12,1185.5 389.79,1186.7 390.45,1187.7 391.11,1184.1 391.78,1185.6 392.44,1186.9 393.1,1186.3 393.8,1188.2 394.5,1185.7 395.2,1188.8 395.9,1183.3 396.6,1182.4 397.3,1179 398,1182 398.7,1183.2 399.4,1181 400.03,1179.7 400.66,1179.4 401.29,1176.8 401.92,1177.2 402.55,1177.1 403.18,1177.5 403.81,1180 404.44,1178 405.07,1178.5 405.7,1175.7 406.31,1179.4 406.93,1175.9 407.54,1181.3 408.16,1178.7 408.77,1175.9 409.39,1178.6 410,1181 410.7,1179.4 411.4,1174.4 412.1,1183 412.8,1175.8 413.5,1176.9 414.2,1173.6 414.86,1169.7 415.52,1172.4 416.19,1172.2 416.85,1168.9 417.51,1170.9 418.18,1169.6 418.84,1169.9 419.5,1168.4 420.2,1164.6 420.9,1168.6 421.6,1165.9 422.3,1163.9 423,1161.2 423.7,1165.2 424.23,1162.8 424.75,1160.4 425.27,1161.8 425.8,1156.8 426.46,1153.1 427.12,1159.7 427.79,1158.7 428.45,1156.1 429.11,1155.3 429.78,1155.6 430.44,1150 431.1,1153.6 431.7,1152.7 432.3,1147.8 432.9,1144.6 433.5,1143 434,1139.9 434.5,1134.1 435,1134 435.4,1122 435.8,1113.6 436.3,1100.5 436.8,1088.4 437.3,1079 437.85,1062.4 438.4,1044.5 439,1036 439.6,1044.5 440.05,1063.8 440.5,1079 440.9,1096.2 441.3,1113.6 441.9,1123.3 442.5,1134 443.17,1138.7 443.83,1141.9 444.5,1147 445.14,1148 445.79,1149.6 446.43,1148.8 447.07,1149.2 447.71,1151.3 448.36,1152.1 449,1153 449.64,1151.2 450.28,1145.7 450.92,1143.6 451.56,1141.8 452.2,1139.9 452.73,1139.4 453.25,1133.2 453.77,1138.1 454.3,1133.5 454.93,1137.3 455.56,1131.8 456.19,1136.9 456.82,1129.5 457.45,1134.2 458.08,1130.4 458.71,1137.7 459.34,1137.3 459.97,1136.6 460.6,1135.7 461.3,1132.6 462,1129.7 462.7,1132.3 463.4,1128.5 464.1,1130.2 464.8,1122.9 465.5,1126.7 466.2,1125.5 466.9,1123 467.56,1117 468.22,1118.9 468.89,1120.1 469.55,1120.1 470.21,1117 470.88,1121.2 471.54,1118 472.2,1120.9 472.86,1119.1 473.52,1113.2 474.19,1113.6 474.85,1117.1 475.51,1109.6 476.18,1112.6 476.84,1115.1 477.5,1110.3 478.15,1111.1 478.8,1104.5 479.45,1112.7 480.1,1104.4 480.75,1107.2 481.4,1106.2 482.05,1101.8 482.7,1101.9 483.36,1103.3 484.02,1097.9 484.69,1101.9 485.35,1102 486.01,1100.7 486.68,1101.9 487.34,1104.4 488,1101.9 488.66,1102.5 489.32,1096.8 489.99,1098.9 490.65,1098.3 491.31,1094 491.98,1093.1 492.64,1085.2 493.3,1089.2 493.96,1084 494.62,1088.3 495.29,1082.6 495.95,1088 496.61,1088 497.28,1081.6 497.94,1080.4 498.6,1082.9 499.22,1081.2 499.84,1081.5 500.46,1082.2 501.08,1078.6 501.7,1078.7 502.4,1079.5 503.1,1077.9 503.8,1082.3 504.5,1080.6 505.2,1086.2 505.9,1085 506.54,1085.2 507.18,1077.9 507.82,1081.8 508.46,1076.8 509.1,1078.7 509.8,1081.8 510.5,1077.6 511.2,1084.5 511.9,1084.9 512.6,1088.1 513.3,1084.8 514,1085 514.7,1089 515.4,1087.1 516.04,1083.4 516.68,1086.2 517.32,1085.3 517.96,1085.8 518.6,1081.6 519.24,1081.1 519.88,1081 520.52,1088.9 521.16,1084 521.8,1085 522.4,1087.8 523,1087.4 523.6,1088.6 524.2,1094.1 524.8,1086.9 525.4,1093.2 526,1095.6 526.7,1093.7 527.4,1093.8 528.1,1092.5 528.8,1093.1 529.5,1094.5 530.2,1100.9 530.9,1096.7 531.6,1097.8 532.3,1099.8 532.9,1101.1 533.5,1105.3 534.1,1108.5 534.7,1108.4 535.3,1110 535.9,1113.5 536.5,1114.6 537.14,1113 537.78,1116.5 538.42,1121.2 539.06,1115.9 539.7,1116.2 540.34,1115.3 540.98,1120.3 541.62,1122.6 542.26,1120.7 542.9,1123 543.55,1122.6 544.2,1127.3 544.85,1125.1 545.5,1127.6 546.15,1125.7 546.8,1130.8 547.45,1130.5 548.1,1129.3 548.77,1129.2 549.45,1128.6 550.12,1136.8 550.79,1128.5 551.46,1129.4 552.14,1127.1 552.81,1134.8 553.48,1133.8 554.15,1134 554.83,1130.8 555.5,1135.7 556.1,1136.3 556.7,1135.1 557.3,1135.1 557.9,1138.4 558.5,1140.7 559.1,1140.4 559.7,1142 560,1144.1 560.66,1142.8 561.33,1146.2 561.99,1145.2 562.65,1143.9 563.31,1146.6 563.97,1146.2 564.64,1148 565.3,1146.2 565.92,1149.7 566.54,1152.1 567.16,1152.9 567.78,1157.9 568.4,1158.9 569.06,1160.1 569.73,1155.1 570.39,1158.6 571.05,1154.6 571.71,1150.7 572.38,1152.1 573.04,1147.9 573.7,1150.4 574.4,1153.9 575.1,1148.6 575.8,1156.6 576.5,1151.4 577.2,1154.2 577.9,1155.7 578.56,1158.6 579.23,1156.1 579.89,1150.8 580.55,1154.5 581.21,1150.6 581.88,1156.3 582.54,1151.8 583.2,1154.6 583.9,1157.9 584.6,1161.4 585.3,1165.2 585.9,1160.3 586.5,1164.3 587.1,1167.3 587.7,1159.6 588.3,1159.7 588.9,1161.4 589.5,1159.9 590.11,1162.9 590.73,1157.7 591.34,1160.6 591.96,1161.2 592.57,1163.1 593.19,1158.5 593.8,1161 594.4,1167.2 595,1166.9 595.6,1158.6 596.2,1160.5 596.8,1163.9 597.4,1161.8 598,1164.1 598.7,1162.6 599.4,1164.1 600.1,1162.4 600.8,1162.8 601.5,1165 602.2,1163.6 602.9,1165.7 603.6,1167.6 604.3,1165.2 604.93,1168.1 605.56,1165.6 606.19,1170.9 606.82,1164.8 607.45,1168.3 608.08,1170.9 608.71,1167 609.34,1168.8 609.97,1165.7 610.6,1167.3 611.26,1166 611.92,1168.4 612.59,1169.5 613.25,1169.7 613.91,1170.8 614.58,1170.3 615.24,1169.7 615.9,1170.5 616.53,1168.7 617.16,1169.8 617.79,1170.1 618.42,1169.9 619.05,1167 619.68,1172.9 620.31,1172.4 620.94,1170.1 621.57,1168.1 622.2,1169.4 622.86,1171.9 623.53,1168.4 624.19,1168.3 624.85,1170.3 625.51,1167.2 626.17,1168.8 626.84,1167.1 627.5,1168.4 628.2,1169.9 628.9,1169.6 629.6,1170.4 630.3,1169.8 631,1169.7 631.7,1169.9 632.4,1171.1 633.1,1166.7 633.8,1169.4 634.46,1165.8 635.12,1168.4 635.79,1168.1 636.45,1166.6 637.11,1170.5 637.77,1167.3 638.44,1168.8 639.1,1165.2 639.76,1165.2 640.42,1161.3 641.09,1161.2 641.75,1167.3 642.41,1164.5 643.08,1163.1 643.74,1167.4 644.4,1164.1 645.06,1167.8 645.73,1163.9 646.39,1165.7 647.05,1161.1 647.71,1159 648.38,1156.7 649.04,1163.1 649.7,1159.9 650.32,1154.6 650.94,1156.3 651.56,1156.2 652.18,1156.2 652.8,1153.6 653.46,1149.6 654.12,1154 654.79,1153 655.45,1159.3 656.11,1155.7 656.77,1155 657.44,1161.5 658.1,1157.8 658.76,1157.2 659.42,1157.9 660.09,1155.8 660.75,1153.6 661.41,1155 662.08,1150.3 662.74,1147.7 663.4,1150.4 663.92,1147.1 664.45,1148.7 664.98,1144.6 665.5,1144.1 666.1,1146.1 666.7,1144.6 667.3,1142.7 667.9,1144.4 668.5,1142 669.1,1141.2 669.7,1139.9 670.4,1136 671.1,1132.7 671.8,1129.3 672.38,1121.3 672.95,1114.8 673.52,1107.5 674.1,1097.7 674.74,1082.1 675.38,1064.2 676.02,1046.9 676.66,1030.5 677.3,1013.3 677.95,980.9 678.6,950 679.2,899.9 679.8,850 680.4,760 680.8,707 681.2,733 681.6,760 682.3,804.9 683,850 683.5,880.5 684,916.6 684.5,950 685.1,1013.3 685.73,1029.9 686.35,1043.6 686.98,1062.9 687.6,1076.6 688.12,1084.1 688.65,1090.6 689.18,1100.5 689.7,1106.1 690.36,1103.1 691.03,1110.1 691.69,1102.7 692.35,1106.3 693.01,1107 693.67,1104.6 694.34,1102.7 695,1101.9 695.6,1098.9 696.2,1099.1 696.8,1098.8 697.4,1099.5 698,1090.3 698.6,1096.2 699.2,1093.5 699.81,1089.1 700.43,1088.9 701.04,1088.6 701.66,1085.8 702.27,1087.4 702.89,1080.2 703.5,1082.9 704.1,1083.7 704.7,1079.7 705.3,1081 705.9,1081.4 706.5,1077.8 707.1,1082.1 707.7,1080.8 708.32,1080.1 708.94,1073.2 709.56,1069.5 710.18,1069.1 710.8,1063.9 711.44,1065.9 712.08,1054.5 712.72,1056.6 713.36,1053.4 714,1053.4 714.66,1053.2 715.33,1052 715.99,1049.2 716.65,1050.1 717.31,1053.5 717.97,1047.8 718.64,1050.2 719.3,1049.2 719.9,1051.3 720.5,1054.6 721.1,1052 721.7,1052.1 722.3,1049.7 722.9,1053.3 723.5,1053.4 724.14,1057.9 724.78,1057 725.42,1060.2 726.06,1057.2 726.7,1059.7 727.4,1061.2 728.1,1058.3 728.8,1056.8 729.5,1056.7 730.2,1060.9 730.9,1057.6 731.54,1061.3 732.18,1063.3 732.82,1066.1 733.46,1070.4 734.1,1072.4 734.75,1071.3 735.4,1075.4 736.05,1073.5 736.7,1071.4 737.35,1072.5 738,1070.4 738.65,1070.5 739.3,1073.4 739.94,1069.1 740.58,1065.6 741.22,1062.2 741.86,1058.1 742.5,1055.5 743.02,1044.1 743.55,1034.8 744.08,1022.1 744.6,1013.3 745.15,978.8 745.7,950 746.35,907.1 747,860 747.65,811.8 748.3,763.5 748.95,811.9 749.6,860 750.15,883.9 750.7,906.4 751.25,929.3 751.8,950 752.4,993.4 753,1034.4 753.5,1056.4 754,1077.2 754.5,1097.7 755.08,1105.4 755.65,1113.3 756.22,1118.5 756.8,1129.3 757.4,1134.2 758,1134.8 758.6,1136.5 759.2,1142 759.8,1142.5 760.4,1146.2 761.06,1147.9 761.73,1145.6 762.39,1145.6 763.05,1152.1 763.71,1150.4 764.38,1146.9 765.04,1153.3 765.7,1152.5 766.36,1155.8 767.03,1153.8 767.69,1157.4 768.35,1160 769.01,1160.7 769.67,1160.4 770.34,1161.8 771,1161 771.62,1164.6 772.24,1160.6 772.86,1159 773.48,1158.6 774.1,1158.9 774.74,1166.5 775.38,1160.1 776.02,1164.6 776.66,1161.8 777.3,1168.4 777.93,1168.6 778.56,1168.5 779.19,1169.1 779.82,1171.5 780.45,1173.6 781.08,1170.8 781.71,1168.5 782.34,1169.5 782.97,1171.2 783.6,1171.5 784.26,1170.4 784.92,1172.8 785.59,1175.1 786.25,1175.1 786.91,1180.5 787.58,1172 788.24,1177.3 788.9,1177.8 789.53,1180.6 790.16,1175.4 790.79,1174.1 791.42,1183.9 792.05,1181.3 792.68,1180.4 793.31,1182.3 793.94,1177 794.57,1176.8 795.2,1180 795.84,1184.5 796.48,1181.5 797.12,1177.7 797.76,1182.1 798.4,1187.1 799.04,1181 799.68,1180.3 800.32,1179.3 800.96,1185.2 801.6,1186.3 802.25,1185.3 802.9,1183.2 803.55,1182.8 804.2,1182.8 804.85,1181.3 805.5,1180.8 806.15,1184 806.8,1181 807.46,1181.1 808.12,1182.5 808.79,1177 809.45,1179.1 810.11,1184.2 810.77,1182.1 811.44,1184.5 812.1,1182.1 812.8,1177.9 813.5,1182.9 814.2,1179.5 814.9,1180.6 815.6,1178.5 816.3,1177.4 817,1176.8 817.7,1178.8 818.4,1178.9 819.06,1181.4 819.73,1176.1 820.39,1177.3 821.05,1176.3 821.71,1176.7 822.38,1180.5 823.04,1177.7 823.7,1178.9 824.4,1176.9 825.1,1181.6 825.8,1181.3 826.5,1181.8 827.2,1181.8 827.9,1182.1 828.54,1179.6 829.18,1182.4 829.82,1177.9 830.46,1179.2 831.1,1178.2 831.74,1179.8 832.38,1175.6 833.02,1177.3 833.66,1170 834.3,1173.6 834.9,1174.4 835.5,1175.2 836.1,1175.6 836.7,1170.8 837.3,1178.4 837.9,1175.5 838.5,1177.8 839.12,1173.7 839.74,1177 840.36,1170.2 840.98,1170.8 841.6,1166.2 842.26,1162.4 842.92,1169.2 843.59,1168.6 844.25,1169.5 844.91,1167 845.58,1171 846.24,1170.3 846.9,1171.5 847.56,1175.1 848.23,1170.6 848.89,1168.1 849.55,1175.1 850.21,1170 850.88,1172.4 851.54,1175.2 852.2,1173.6 852.9,1177.4 853.6,1174.2 854.3,1174.3 855,1172.6 855.7,1172.1 856.4,1171.5 857,1172.5 857.6,1174.7 858.2,1172.8 858.8,1176.8 859.4,1180.5 860,1179.1 860.6,1180 861.26,1178.4 861.92,1179.5 862.59,1174.2 863.25,1174.7 863.91,1179.7 864.58,1174.9 865.24,1173.6 865.9,1170.5 866.56,1170.5 867.23,1169.4 867.89,1168.8 868.55,1172.1 869.21,1175.7 869.88,1172.6 870.54,1175.3 871.2,1173.6 871.86,1172.6 872.53,1173.3 873.19,1173.7 873.85,1177.6 874.51,1172.6 875.17,1169.7 875.84,1174.1 876.5,1171.5 877.15,1171.2 877.8,1172.3 878.45,1168.9 879.1,1172.7 879.75,1168.4 880.4,1170.9 881.05,1168.6 881.7,1169.4 882.35,1165.6 883,1163.6 883.67,1160.9 884.35,1157.2 885.03,1150.7 885.7,1149.8 886.2,1140.3 886.7,1129 887.1,1106 887.7,1096 888.3,1084.2 888.9,1072.9 889.47,1084.4 890.03,1095.3 890.6,1106 891.15,1117.9 891.7,1129 892.15,1139 892.6,1149.8 893.25,1158 893.9,1163.6 894.47,1170.9 895.03,1174 895.6,1180.8 896.28,1181.9 896.97,1180.3 897.65,1182.4 898.33,1186.9 899.02,1185.4 899.7,1186.3 900.4,1187.2 901.1,1186.1 901.8,1192.4 902.5,1190.6 903.2,1189 903.9,1188.4 904.5,1189.8 905.1,1194.6 905.7,1194.1 906.3,1192.7 906.9,1192.4 907.5,1190.9 908.1,1194.7 908.76,1198.2 909.42,1199.2 910.09,1199.8 910.75,1196 911.41,1197.6 912.08,1190.7 912.74,1197.3 913.4,1195.8 914.05,1193.3 914.7,1192.4 915.35,1191.7 916,1191 916.65,1191.2 917.3,1193.2 917.95,1189.4 918.6,1190.5 919.24,1189.6 919.88,1190.1 920.52,1194.5 921.16,1192.4 921.8,1188.9 922.44,1192.5 923.08,1194.5 923.72,1190.1 924.36,1192.3 925,1190.5 925.7,1192.7 926.4,1186 927.1,1189.5 927.8,1188.3 928.5,1190.2 929.2,1191 929.9,1186 930.6,1183 931.3,1186.3 931.9,1184.7 932.5,1185.7 933.1,1183.8 933.7,1185.7 934.3,1181.9 934.9,1185.8 935.5,1184.2 936.14,1186.3 936.79,1189.8 937.43,1184.8 938.07,1187.9 938.71,1184 939.36,1184.3 940,1186.3 940.66,1183.8 941.33,1184.9 941.99,1181.5 942.65,1179.7 943.31,1189.3 943.97,1182.4 944.64,1182.6 945.3,1182.1 945.95,1183.2 946.6,1182.3 947.25,1183.5 947.9,1187.5 948.55,1186 949.2,1188.8 949.85,1183.7 950.5,1187.3 951.16,1187.7 951.83,1183.4 952.49,1181.7 953.15,1186 953.81,1184 954.47,1184.3 955.14,1183.4 955.8,1181 956.46,1175.3 957.12,1180.8 957.79,1183.4 958.45,1178.3 959.11,1179.4 959.77,1179.8 960.44,1179.9 961.1,1174.7 961.76,1170.7 962.42,1175.8 963.09,1177.1 963.75,1177.8 964.41,1182 965.08,1177.1 965.74,1175.5 966.4,1182.1 967.05,1183.4 967.7,1182.7 968.35,1186.7 969,1187.4 969.65,1186.3 970.3,1189.3 970.95,1183.4 971.6,1187.3 972.24,1187.2 972.88,1184.2 973.52,1192.3 974.16,1187.1 974.8,1190.2 975.44,1189.1 976.08,1189.9 976.72,1190.7 977.36,1191 978,1188.4 978.7,1190.8 979.4,1189.6 980.1,1191.6 980.8,1185.5 981.5,1188.5 982.2,1194.8 982.9,1193.1 983.6,1188.6 984.3,1192.6 984.93,1189.4 985.56,1189.6 986.19,1191.6 986.82,1194.7 987.45,1192.5 988.08,1194.5 988.71,1189.4 989.34,1192.3 989.97,1193 990.6,1192.6 991.24,1194.4 991.88,1195.9 992.52,1195.1 993.16,1197.6 993.8,1199.3 994.44,1198.3 995.08,1194.8 995.72,1196.8 996.36,1197.1 997,1200 997.7,1203.4 998.4,1201 999.1,1198.7 999.8,1196.7 1000.5,1196.2 1001.2,1200.9 1001.9,1196.3 1002.6,1194.8 1003.3,1195.8 1003.96,1194.2 1004.62,1198.2 1005.29,1192.3 1005.95,1196 1006.61,1199.3 1007.27,1200.1 1007.94,1199.9 1008.6,1198.9 1009.25,1197.9 1009.9,1200.4 1010.55,1202.2 1011.2,1195.7 1011.85,1195.5 1012.5,1196.4 1013.15,1197.3 1013.8,1196.8 1014.47,1197.2 1015.14,1198.5 1015.81,1196.2 1016.49,1205.6 1017.16,1202.5 1017.83,1206.8 1018.5,1208.4 1019.17,1206.2 1019.83,1208.4 1020.5,1202.7 1021.17,1202.1 1021.83,1204.2 1022.5,1203.3 1023.17,1201 1023.83,1202.4 1024.5,1199.3 1025.17,1198.8 1025.83,1195.8 1026.5,1197.9 1027.1,1199.2 1027.7,1202.9 1028.3,1201.6 1028.9,1203.1 1029.5,1207 1030.1,1205 1030.7,1207.4 1031.36,1205.3 1032.03,1206.6 1032.69,1209.9 1033.35,1204.3 1034.01,1204.6 1034.67,1205 1035.34,1202.6 1036,1203.2 1036.7,1201.8 1037.4,1205.4 1038.1,1197.5 1038.8,1202.5 1039.5,1203.1 1040.2,1203.4 1040.9,1200.4 1041.6,1200.5 1042.3,1198.9 1042.94,1199.4 1043.58,1198.4 1044.22,1205.1 1044.86,1206.9 1045.5,1208.4 1046.15,1208.6 1046.79,1210 1047.44,1211.7 1048.08,1206.4 1048.73,1208.6 1049.38,1204 1050.02,1203.6 1050.67,1199.5 1051.32,1201.8 1051.96,1198.8 1052.61,1200 1053.25,1195.3 1053.9,1197.9 1054.6,1201.7 1055.3,1196.3 1056,1202.2 1056.7,1197 1057.4,1203.1 1058.1,1204.2 1058.74,1204.4 1059.38,1205.4 1060.02,1206.7 1060.66,1199.5 1061.3,1201.8 1061.94,1201.1 1062.58,1201.4 1063.22,1203.9 1063.86,1198.9 1064.5,1200 1065.12,1199.7 1065.74,1203.1 1066.36,1209.2 1066.98,1207.3 1067.6,1211.6 1068.26,1205.4 1068.92,1207 1069.59,1209.4 1070.25,1208.7 1070.91,1201.4 1071.58,1199.7 1072.24,1201.5 1072.9,1197.9 1073.6,1200.8 1074.3,1198.6 1075,1199.1 1075.7,1201.3 1076.4,1195.8 1077.1,1203.6 1077.8,1197.8 1078.5,1196 1079.2,1201.1 1079.86,1204.8 1080.53,1202.3 1081.19,1204.7 1081.85,1199.4 1082.51,1204.5 1083.17,1205 1083.84,1205.3 1084.5,1205.3 1085.2,1204.5 1085.9,1202.8 1086.6,1201.6 1087.3,1197.7 1088,1204.4 1088.7,1196.9 1089.4,1193.9 1090.1,1196.6 1090.8,1194.7 1091.46,1194.4 1092.12,1193.6 1092.79,1201.6 1093.45,1197.3 1094.11,1192.2 1094.77,1195.8 1095.44,1196.5 1096.1,1197.9 1096.76,1197 1097.42,1198.1 1098.09,1197.1 1098.75,1199.9 1099.41,1193.6 1100.08,1193.2 1100.74,1196 1101.4,1192.6 1102.06,1195.4 1102.73,1191.5 1103.39,1190.5 1104.05,1194.5 1104.71,1192.9 1105.38,1194 1106.04,1193.6 1106.7,1190.5 1107.3,1190.4 1107.9,1188.1 1108.5,1186.5 1109.1,1184.6 1109.7,1179.9 1110.3,1182.9 1110.9,1180 1111.57,1177.9 1112.23,1174.6 1112.9,1169.7 1113.57,1167.1 1114.23,1165.6 1114.9,1161 1115.47,1155.4 1116.03,1145.8 1116.6,1139.9 1117.2,1117 1117.8,1097.7 1118.35,1071.6 1118.9,1044.9 1119.45,1038.9 1120,1036.5 1120.63,1045.3 1121.27,1049 1121.9,1055.5 1122.53,1070.5 1123.17,1081.3 1123.8,1097.7 1124.4,1119 1125,1139.9 1125.63,1147.2 1126.27,1152.1 1126.9,1161 1127.5,1166.5 1128.1,1167.4 1128.7,1171.1 1129.3,1173.3 1129.9,1176.8 1130.55,1177.7 1131.2,1179 1131.85,1178.6 1132.5,1178.9 1133.15,1174.1 1133.8,1178.3 1134.45,1175.5 1135.1,1178.9 1135.76,1179.9 1136.42,1177.6 1137.09,1175.2 1137.75,1184 1138.41,1179.5 1139.08,1179.6 1139.74,1180.8 1140.4,1181 1141.1,1179.1 1141.8,1179.8 1142.5,1180.9 1143.2,1174.3 1143.9,1175.6 1144.6,1172.6 1145.24,1174.2 1145.88,1169.2 1146.52,1174 1147.16,1174.5 1147.8,1171.7 1148.44,1171.1 1149.08,1169.3 1149.72,1174.2 1150.36,1169.9 1151,1171.5 1151.65,1170.8 1152.3,1166 1152.95,1167.5 1153.6,1163 1154.25,1164.1 1154.9,1167 1155.55,1161.2 1156.2,1163.1 1156.86,1160.5 1157.53,1161.6 1158.19,1162.5 1158.85,1161.1 1159.51,1164.6 1160.17,1163 1160.84,1166.5 1161.5,1165.2 1162.1,1164.3 1162.7,1162 1163.3,1160.4 1163.9,1158.9 1164.5,1151.4 1165.1,1159.2 1165.7,1152.5 1166.36,1147.1 1167.03,1154.3 1167.69,1147.9 1168.35,1143.8 1169.01,1144.8 1169.67,1142.5 1170.34,1147.3 1171,1146.2 1171.67,1145.2 1172.35,1150.2 1173.02,1146.3 1173.69,1144.2 1174.36,1149.4 1175.04,1150.2 1175.71,1144 1176.38,1143.9 1177.05,1145.8 1177.73,1142.8 1178.4,1146.2 1179.1,1142.3 1179.8,1146.6 1180.5,1143.6 1181.2,1141.8 1181.9,1137.5 1182.6,1135.7 1183.23,1137.4 1183.86,1128.6 1184.49,1135.3 1185.12,1126.7 1185.75,1126.7 1186.38,1128.8 1187.01,1123.7 1187.64,1126 1188.27,1124.8 1188.9,1123 1189.54,1124.9 1190.18,1121.4 1190.82,1121.5 1191.46,1120 1192.1,1119.9 1192.74,1119 1193.38,1119 1194.02,1119.9 1194.66,1120.9 1195.3,1117.7 1196,1117.5 1196.7,1110.6 1197.4,1116.1 1198.1,1110.1 1198.8,1111.3 1199.5,1114.7 1200.2,1107.4 1200.9,1110.1 1201.6,1111.4 1202.26,1110.7 1202.92,1109.2 1203.59,1107.1 1204.25,1103.8 1204.91,1111.4 1205.58,1102.1 1206.24,1102.8 1206.9,1104 1207.56,1105.1 1208.23,1103.1 1208.89,1104.1 1209.55,1105 1210.21,1098.4 1210.88,1102 1211.54,1098.3 1212.2,1099.8 1212.8,1100.4 1213.4,1100.5 1214,1099.3 1214.6,1102.2 1215.2,1100.4 1215.8,1108 1216.4,1104 1217.05,1108 1217.7,1102 1218.35,1096.8 1219,1094.1 1219.65,1094.1 1220.3,1100.8 1220.95,1093.4 1221.6,1095.6 1222.24,1094.7 1222.88,1094.6 1223.52,1094.8 1224.16,1095.2 1224.8,1095.7 1225.44,1100.9 1226.08,1097.9 1226.72,1101.7 1227.36,1098.5 1228,1097.7 1228.65,1097.8 1229.3,1101.7 1229.95,1093.9 1230.6,1098.4 1231.25,1091.6 1231.9,1096.4 1232.55,1093 1233.2,1091.4 1233.81,1092.5 1234.43,1089.4 1235.04,1095.3 1235.66,1091 1236.27,1086.8 1236.89,1093.4 1237.5,1087.1 1238.2,1068.7 1238.9,1053.1 1239.6,1034.4 1240.17,1007.7 1240.73,978.4 1241.3,950 1241.87,937.2 1242.43,921.7 1243,908 1243.58,917.3 1244.16,924 1244.74,932.7 1245.32,941.2 1245.9,950 1246.6,978.8 1247.3,1006 1248,1034.4 1248.7,1061.2 1249.4,1082.8 1250.1,1108.2 1250.7,1115.3 1251.3,1116.9 1251.9,1121.1 1252.5,1125.1 1253.1,1130.9 1253.7,1133.1 1254.3,1137.8 1254.96,1140.5 1255.62,1138.3 1256.29,1134.8 1256.95,1139.1 1257.61,1143.9 1258.27,1137.2 1258.94,1142.2 1259.6,1139.9 1260.26,1138.9 1260.92,1146.9 1261.59,1142.7 1262.25,1145.8 1262.91,1149.6 1263.58,1151.8 1264.24,1152.4 1264.9,1154.6 1265.56,1160.2 1266.23,1158 1266.89,1155 1267.55,1158.3 1268.21,1158.1 1268.88,1159.1 1269.54,1157.8 1270.2,1158.9 1270.85,1159.3 1271.5,1162 1272.15,1160.4 1272.8,1164.2 1273.45,1171.2 1274.1,1166 1274.75,1163.1 1275.4,1169.4 1276.04,1169.5 1276.68,1168.5 1277.32,1167.5 1277.96,1170.3 1278.6,1169.8 1279.24,1173 1279.88,1175.1 1280.52,1167.2 1281.16,1170.9 1281.8,1171.5 1282.45,1168.7 1283.1,1170.8 1283.75,1175 1284.4,1177.9 1285.05,1176.2 1285.7,1183.7 1286.35,1175.4 1287,1181 1287.66,1181.2 1288.33,1181.9 1288.99,1179.4 1289.65,1181.7 1290.31,1177.8 1290.97,1179.4 1291.64,1182.6 1292.3,1183.1 1293,1180.8 1293.7,1184.6 1294.4,1185.3 1295.1,1188.3 1295.8,1186.7 1296.5,1184.3 1297.2,1184.2 1297.9,1188.1 1298.6,1187.3 1299.24,1185.7 1299.88,1192.4 1300.52,1187.5 1301.16,1186.6 1301.8,1185.5 1302.44,1187.7 1303.08,1187.2 1303.72,1189.1 1304.36,1186.3 1305,1188.4 1305.66,1187.6 1306.33,1189.1 1306.99,1189.2 1307.65,1188.3 1308.31,1191.4 1308.97,1191.8 1309.64,1192.3 1310.3,1193.7 1310.95,1194.6 1311.6,1190.9 1312.25,1194.1 1312.9,1195.8 1313.55,1194.5 1314.2,1194.1 1314.85,1192.7 1315.5,1194.7 1316.14,1194.2 1316.79,1192.2 1317.43,1202.1 1318.07,1198.2 1318.71,1199 1319.36,1200.8 1320,1198.9 1320.66,1198.8 1321.33,1199.1 1321.99,1198.5 1322.65,1195.3 1323.31,1192.8 1323.97,1199.1 1324.64,1200.1 1325.3,1196.8 1325.95,1197.9 1326.6,1195.4 1327.25,1197 1327.9,1197.2 1328.55,1197.4 1329.2,1194.7 1329.85,1195.8 1330.5,1192.6 1331.05,1185 1331.6,1183.3 1332.15,1177.9 1332.7,1171.5 1333.32,1167.4 1333.94,1168.9 1334.56,1169.2 1335.18,1169.7 1335.8,1165.2 1336.4,1168.4 1337,1170.2 1337.6,1168 1338.2,1168.9 1338.8,1171.1 1339.4,1168.7 1340,1171.5 1340.55,1175.5 1341.1,1182.9 1341.65,1187.1 1342.2,1192.6 1342.85,1193.6 1343.5,1197.5 1344.15,1189.7 1344.8,1195.6 1345.45,1199.2 1346.1,1197.5 1346.75,1202.8 1347.4,1200 1348.04,1196.6 1348.68,1199.2 1349.32,1198.1 1349.96,1198.3 1350.6,1196.3 1351.24,1198.9 1351.88,1196.6 1352.52,1196.5 1353.16,1200.4 1353.8,1198.9 1354.5,1199.1 1355.2,1196.1 1355.9,1199.7 1356.6,1201.6 1357.3,1202.8 1358,1201.1 1358.7,1204.6 1359.4,1201.1 1360.1,1202.1 1360.72,1199.9 1361.34,1200 1361.96,1201.9 1362.58,1197.1 1363.2,1201.1 1363.84,1205.5 1364.48,1203.2 1365.12,1199.8 1365.76,1200.6 1366.4,1203 1367.04,1206.1 1367.68,1197.8 1368.32,1204.6 1368.96,1202.8 1369.6,1202.1 1370.23,1200.2 1370.86,1202.6 1371.49,1198.7 1372.12,1196.6 1372.75,1195.5 1373.38,1205.6 1374.01,1198.4 1374.64,1198.3 1375.27,1198.7 1375.9,1198.9 1376.56,1198.2 1377.23,1197.1 1377.89,1202.3 1378.55,1201.5 1379.21,1202.7 1379.88,1198.4 1380.54,1206.2 1381.2,1203.2 1381.8,1203.1 1382.4,1204.2 1383,1199.2 1383.6,1198.5 1384.2,1195 1384.8,1201.4 1385.4,1196.8 1386.1,1197.1 1386.8,1192.5 1387.5,1195 1388.2,1194.5 1388.9,1194.4 1389.6,1193.7 1390.26,1196.9 1390.92,1197.9 1391.59,1197.1 1392.25,1193.9 1392.91,1195.1 1393.58,1196 1394.24,1197.3 1394.9,1200 1395.6,1201.7 1396.3,1199.8 1397,1201.5 1397.7,1204.6 1398.4,1202 1399.1,1204.2 1399.7,1208.2 1400.3,1196.9 1400.9,1203 1401.5,1198 1402.1,1199.9 1402.7,1198.3 1403.3,1197.9 1403.96,1198 1404.62,1196.5 1405.29,1199.8 1405.95,1197.4 1406.61,1200.8 1407.27,1199.1 1407.94,1198.3 1408.6,1202.1 1409.26,1205.4 1409.92,1202.4 1410.59,1200.3 1411.25,1203.9 1411.91,1204.6 1412.58,1207.2 1413.24,1203.9 1413.9,1203.2 1414.6,1205.2 1415.3,1200.9 1416,1208.2 1416.7,1202.4 1417.4,1204.2 1418.1,1204.2 1418.76,1205.6 1419.42,1208.2 1420.09,1207.1 1420.75,1207.7 1421.41,1209 1422.08,1213.9 1422.74,1213.6 1423.4,1211.6 1424.05,1211.8 1424.7,1210 1425.35,1204.4 1426,1204.1 1426.65,1200.5 1427.3,1207.1 1427.95,1195.9 1428.6,1198.9 1429.26,1195.9 1429.92,1197.7 1430.59,1199.1 1431.25,1196.4 1431.91,1198.5 1432.58,1204.2 1433.24,1198.2 1433.9,1203.2 1434.56,1205.2 1435.23,1202.9 1435.89,1199.1 1436.55,1194.8 1437.21,1197.9 1437.88,1199 1438.54,1196.7 1439.2,1197.9 1439.87,1196.9 1440.55,1198.2 1441.22,1197.6 1441.89,1202.9 1442.56,1199.9 1443.24,1201.7 1443.91,1198.9 1444.58,1193.9 1445.25,1197.9 1445.93,1199.2 1446.6,1198.9 1447.26,1195.6 1447.92,1200.7 1448.59,1199.2 1449.25,1194.9 1449.91,1201.4 1450.58,1200 1451.24,1198.6 1451.9,1198.9 1452.6,1197.2 1453.3,1202.4 1454,1194.9 1454.7,1198.7 1455.4,1203.9 1456.1,1201.1 1456.7,1203 1457.3,1198.6 1457.9,1200 1458.5,1192.5 1459.1,1189.3 1459.7,1195.5 1460.3,1188.4 1460.9,1187.7 1461.5,1183.6 1462.1,1182.4 1462.7,1179.2 1463.3,1176.2 1463.9,1174.6 1464.5,1171.5 1465.2,1155.6 1465.9,1134.7 1466.6,1118.8 1467.25,1112.2 1467.9,1107 1468.55,1100.5 1469.2,1095.6 1469.88,1101.3 1470.55,1105.3 1471.23,1112.4 1471.9,1118.8 1472.54,1123.9 1473.18,1126.9 1473.82,1131.4 1474.46,1136.5 1475.1,1139.9 1475.62,1152.6 1476.15,1160.2 1476.67,1170.7 1477.2,1182.1 1477.8,1185.2 1478.4,1185.4 1479,1181.7 1479.6,1183.4 1480.2,1185.2 1480.8,1187.4 1481.4,1188.4 1482.06,1188.1 1482.73,1190.1 1483.39,1192 1484.05,1190.3 1484.71,1185.5 1485.38,1185.3 1486.04,1184.2 1486.7,1186.3 1487.4,1186.2 1488.1,1193.2 1488.8,1192.6 1489.42,1192.5 1490.04,1184.5 1490.66,1188.7 1491.28,1190.4 1491.9,1186.3 1492.51,1180.8 1493.13,1184.8 1493.74,1186.6 1494.36,1175.2 1494.97,1177 1495.59,1174.1 1496.2,1175.7 1496.8,1176.7 1497.4,1176.9 1498,1180.2 1498.6,1177.4 1499.2,1176.6 1499.8,1177.2 1500.4,1177.8 1501.02,1179.1 1501.64,1171.8 1502.26,1172 1502.88,1169.3 1503.5,1169.4 1504.11,1166.1 1504.73,1165.5 1505.34,1160.4 1505.96,1159.9 1506.57,1154.8 1507.19,1151.7 1507.8,1150.4 1508.33,1135.3 1508.85,1126.9 1509.38,1110.8 1509.9,1097.7 1510.6,1091.6 1511.3,1082 1512,1074.5 1512.62,1079.4 1513.24,1082.6 1513.86,1089.9 1514.48,1094 1515.1,1097.7 1515.74,1103.1 1516.38,1111.3 1517.02,1118.2 1517.66,1124.5 1518.3,1129.3 1518.83,1140.3 1519.35,1151.9 1519.88,1162.3 1520.4,1171.5 1521.1,1173 1521.8,1169.5 1522.5,1172.7 1523.2,1180.3 1523.9,1175.8 1524.6,1178.9 1525.26,1179.7 1525.92,1180.3 1526.59,1179.9 1527.25,1187.2 1527.91,1182 1528.58,1188.4 1529.24,1185.6 1529.9,1186.3 1530.6,1185 1531.3,1185.6 1532,1181.4 1532.7,1185 1533.4,1185.5 1534.1,1183.7 1534.8,1183.2 1535.5,1180.6 1536.2,1182.1 1536.81,1184.6 1537.43,1181.6 1538.04,1183 1538.66,1183 1539.27,1189.7 1539.89,1187 1540.5,1187.3 1541.12,1185.8 1541.74,1189.3 1542.36,1184.4 1542.98,1181.7 1543.6,1184.2 1544.2,1185.7 1544.8,1187.4 1545.4,1189.5 1546,1182.9 1546.6,1186.8 1547.2,1192.7 1547.8,1190.5 1548.44,1191.8 1549.08,1189.9 1549.72,1185.6 1550.36,1189.9 1551,1188.1 1551.64,1187.1 1552.28,1190.4 1552.92,1187.3 1553.56,1190 1554.2,1189.5 1554.83,1190.1 1555.47,1185.2 1556.1,1187.3 1556.73,1186.8 1557.37,1185 1558,1180 1558.5,1185.1 1559,1191 1559.5,1198.9 1560.1,1195 1560.7,1192.2 1561.3,1192.5 1561.9,1193.6 1562.5,1191.6 1563.1,1191.2 1563.7,1188.4 1564.35,1192.4 1565,1187.9 1565.65,1186.5 1566.3,1186.3 1566.95,1186.2 1567.6,1190.5 1568.25,1193.2 1568.9,1189.5 1569.51,1191.4 1570.13,1190.3 1570.74,1192.7 1571.36,1196 1571.97,1192.9 1572.59,1196.8 1573.2,1195.8 1573.9,1196.3 1574.6,1195.2 1575.3,1199.6 1576,1199.8 1576.7,1197.5 1577.4,1195.8 1578.1,1195 1578.8,1196.3 1579.5,1198.9 1580.2,1202.7 1580.9,1199.9 1581.6,1200.2 1582.3,1201.5 1583,1200.3 1583.7,1201.4 1584.4,1198.6 1585.1,1204.4 1585.8,1201.1 1586.44,1198.9 1587.08,1203.5 1587.72,1197.1 1588.36,1199.2 1589,1198.4 1589.64,1203.2 1590.28,1198.2 1590.92,1198.4 1591.56,1203.7 1592.2,1202.1 1592.85,1205.8 1593.5,1203.9 1594.15,1206.1 1594.8,1203.5 1595.45,1197.9 1596.1,1196 1596.75,1198.6 1597.4,1200 1598.06,1198.8 1598.73,1198.7 1599.39,1202.3 1600.05,1207.3 1600.71,1206.7 1601.38,1205.6 1602.04,1207.1 1602.7,1206.3 1603.4,1204.5 1604.1,1210.1 1604.8,1204.8 1605.5,1208 1606.2,1205 1606.9,1205.9 1607.6,1209.1 1608.3,1211.4 1609,1207.4 1609.64,1204.1 1610.28,1209.6 1610.92,1214.7 1611.56,1210.8 1612.2,1211.4 1612.84,1213.6 1613.48,1212.2 1614.12,1213.7 1614.76,1212.7 1615.4,1212.7 1616.1,1209.7 1616.8,1214.2 1617.5,1212.9 1618.2,1217.2 1618.9,1209.2 1619.6,1210.8 1620.3,1217.7 1621,1212.9 1621.7,1213.7 1622.4,1217.8 1623.1,1212.4 1623.8,1216.8 1624.5,1210.7 1625.2,1210.6 1625.9,1214 1626.6,1215.5 1627.3,1213.9 1628,1214.8 1628.7,1219.1 1629.4,1213.5 1630.1,1217.6 1630.8,1213.7 1631.5,1213.2 1632.2,1217.4 1632.9,1213.8 1633.6,1210.8 1634.3,1215.8 1634.94,1216.5 1635.58,1218.4 1636.22,1217 1636.86,1214.4 1637.5,1213 1638.14,1213.9 1638.78,1217.6 1639.42,1220.9 1640.06,1213.8 1640.7,1216.9 1641.4,1216.8 1642.1,1219.8 1642.8,1218.4 1643.5,1217.3 1644.2,1215.9 1644.9,1219.4 1645.6,1217.1 1646.3,1216.2 1647,1212.9 1647.7,1219.2 1648.4,1219.1 1649.1,1217.9 1649.73,1218.9 1650.36,1215.4 1650.99,1220 1651.62,1218.7 1652.25,1216.2 1652.88,1213.2 1653.51,1217.4 1654.14,1218.8 1654.77,1211.8 1655.4,1215.8 1656.04,1217 1656.68,1214.7 1657.32,1215.1 1657.96,1216.1 1658.6,1217.9 1659.24,1215.7 1659.88,1211.8 1660.52,1216.4 1661.16,1216.1 1661.8,1214.8 1662.4,1215.1 1663,1220.3 1663.6,1216.2 1664.2,1220.4 1664.8,1221.5 1665.4,1220 1666,1220 1666.67,1220.1 1667.35,1218.1 1668.02,1217.1 1668.69,1216.3 1669.36,1214.8 1670.04,1215.4 1670.71,1214 1671.38,1214.5 1672.05,1214.1 1672.73,1217.3 1673.4,1213.7 1673.9,1216.2 1674.4,1222.2 1675.04,1219.4 1675.68,1224.4 1676.32,1224.3 1676.96,1223 1677.6,1221.1 1678.24,1226 1678.88,1220.4 1679.52,1220.1 1680.16,1222.4 1680.8,1219 1681.5,1216.3 1682.2,1217.7 1682.9,1217.5 1683.6,1214.1 1684.3,1219.4 1685,1221.8 1685.7,1219.4 1686.4,1216 1687.1,1216.9 1687.73,1216.1 1688.36,1214 1688.99,1216.2 1689.62,1217.4 1690.25,1213.1 1690.88,1218.5 1691.51,1212.4 1692.14,1214.3 1692.77,1215.9 1693.4,1215.8 1694.1,1218 1694.8,1215.4 1695.5,1212.1 1696.2,1211.8 1696.9,1215.6 1697.6,1215.9 1698.3,1216 1699,1210.8 1699.7,1214.8 1700.34,1215.6 1700.98,1216 1701.62,1211.4 1702.26,1211.2 1702.9,1215 1703.54,1210.5 1704.18,1214.2 1704.82,1216.3 1705.46,1210.2 1706.1,1211.6 1706.73,1212.5 1707.36,1212.6 1707.99,1212.8 1708.62,1212.2 1709.25,1212.1 1709.88,1209.7 1710.51,1210.7 1711.14,1212.5 1711.77,1214.2 1712.4,1210.5 1713.1,1210.4 1713.8,1210.6 1714.5,1206.9 1715.2,1203.1 1715.9,1202.8 1716.6,1198.9 1717.2,1196 1717.8,1188.3 1718.4,1186.3 1719.1,1185.6 1719.8,1179.5 1720.5,1183.1 1721.16,1185.8 1721.83,1187.7 1722.49,1186.3 1723.15,1188 1723.81,1187.3 1724.47,1188.7 1725.14,1186.7 1725.8,1188.4 1726.46,1195.4 1727.12,1193.8 1727.79,1195.9 1728.45,1193.9 1729.11,1197.1 1729.77,1199.1 1730.44,1198.2 1731.1,1198.9 1731.73,1198.4 1732.36,1203.6 1732.99,1198.9 1733.62,1202.7 1734.25,1203.3 1734.88,1199.2 1735.51,1206.3 1736.14,1205.1 1736.77,1203.4 1737.4,1205.3 1738.06,1208.9 1738.73,1205.1 1739.39,1212 1740.05,1210.8 1740.71,1210.6 1741.38,1215.7 1742.04,1213.8 1742.7,1214.8 1743.35,1213 1744,1214.5 1744.65,1213.6 1745.3,1208.5 1745.95,1211.1 1746.6,1211.1 1747.25,1215.2 1747.9,1210.5 1748.54,1212.7 1749.18,1208.5 1749.82,1211.2 1750.46,1211.2 1751.1,1214.4 1751.74,1213.8 1752.38,1211.4 1753.02,1211.1 1753.66,1207.7 1754.3,1211.6 1754.97,1207.8 1755.65,1210.8 1756.32,1219 1756.99,1214.3 1757.66,1212.8 1758.34,1217 1759.01,1220.2 1759.68,1216 1760.35,1217.4 1761.03,1221.2 1761.7,1217.9 1762.4,1217.6 1763.1,1215.8 1763.8,1214.3 1764.5,1217.1 1765.2,1213.1 1765.9,1213.7 1766.6,1214.9 1767.3,1209.7 1768,1211.6 1768.66,1208.5 1769.33,1213.3 1769.99,1212.4 1770.65,1212.1 1771.31,1212.5 1771.97,1218 1772.64,1217.2 1773.3,1215.8 1774,1216.2 1774.7,1216.5 1775.4,1216.3 1776.1,1215.2 1776.8,1212.7 1777.5,1215.4 1778.2,1218.4 1778.9,1219.8 1779.6,1214.8 1780.26,1215.8 1780.92,1215.4 1781.59,1213.7 1782.25,1218.4 1782.91,1211.6 1783.58,1214 1784.24,1213.1 1784.9,1215.8 1785.55,1214.5 1786.2,1217 1786.85,1215.7 1787.5,1213.5 1788.15,1216.3 1788.8,1218.8 1789.45,1215.4 1790.1,1215.8 1790.74,1211.8 1791.38,1216.4 1792.02,1220.6 1792.66,1216.8 1793.3,1218.9 1793.94,1218.1 1794.58,1218.6 1795.22,1219 1795.86,1223 1796.5,1219 1797.1,1219.5 1797.7,1213.6 1798.3,1218.6 1798.9,1215.3 1799.5,1216.3 1800.1,1214.7 1800.7,1212.7 1801.3,1213.2 1801.9,1214.5 1802.5,1213.8 1803.1,1212.3 1803.7,1216.1 1804.3,1213 1804.9,1216.9 1805.57,1215 1806.25,1219.6 1806.92,1219.2 1807.59,1215.6 1808.26,1216.4 1808.94,1215.8 1809.61,1214.1 1810.28,1210.5 1810.95,1211.1 1811.63,1216.7 1812.3,1211.6"/>
</g>
<g id="axes" fill="#000" shape-rendering="crispEdges">
<rect x="191" y="63" width="6" height="1217"/>
<rect x="1811" y="63" width="5" height="1217"/>
<rect x="191" y="63" width="1625" height="5"/>
<rect x="191" y="1251" width="1625" height="5"/>
<rect x="218.24" y="1253" width="5.5" height="15"/>
<rect x="272.22" y="1253" width="5.5" height="15"/>
<rect x="326.2" y="1253" width="5.5" height="27"/>
<rect x="380.18" y="1253" width="5.5" height="15"/>
<rect x="434.16" y="1253" width="5.5" height="15"/>
<rect x="488.14" y="1253" width="5.5" height="15"/>
<rect x="542.12" y="1253" width="5.5" height="15"/>
<rect x="596.1" y="1253" width="5.5" height="27"/>
<rect x="650.08" y="1253" width="5.5" height="15"/>
<rect x="704.06" y="1253" width="5.5" height="15"/>
<rect x="758.04" y="1253" width="5.5" height="15"/>
<rect x="812.02" y="1253" width="5.5" height="15"/>
<rect x="866" y="1253" width="5.5" height="27"/>
<rect x="919.98" y="1253" width="5.5" height="15"/>
<rect x="973.96" y="1253" width="5.5" height="15"/>
<rect x="1027.94" y="1253" width="5.5" height="15"/>
<rect x="1081.92" y="1253" width="5.5" height="15"/>
<rect x="1135.9" y="1253" width="5.5" height="27"/>
<rect x="1189.88" y="1253" width="5.5" height="15"/>
<rect x="1243.86" y="1253" width="5.5" height="15"/>
<rect x="1297.84" y="1253" width="5.5" height="15"/>
<rect x="1351.82" y="1253" width="5.5" height="15"/>
<rect x="1405.8" y="1253" width="5.5" height="27"/>
<rect x="1459.78" y="1253" width="5.5" height="15"/>
<rect x="1513.76" y="1253" width="5.5" height="15"/>
<rect x="1567.74" y="1253" width="5.5" height="15"/>
<rect x="1621.72" y="1253" width="5.5" height="15"/>
<rect x="1675.7" y="1253" width="5.5" height="27"/>
<rect x="1729.68" y="1253" width="5.5" height="15"/>
<rect x="1783.66" y="1253" width="5.5" height="15"/>
</g>
<g id="ticklabels" font-size="83" text-anchor="middle">
<text transform="translate(193.7 1369.3) scale(0.974 1)">15</text>
<text transform="translate(328.65 1369.3) scale(0.974 1)">20</text>
<text transform="translate(598.55 1369.3) scale(0.974 1)">30</text>
<text transform="translate(868.45 1369.3) scale(0.974 1)">40</text>
<text transform="translate(1138.35 1369.3) scale(0.974 1)">50</text>
<text transform="translate(1408.25 1369.3) scale(0.974 1)">60</text>
<text transform="translate(1678.15 1369.3) scale(0.974 1)">70</text>
<text transform="translate(1813.1 1369.3) scale(0.974 1)">75</text>
</g>
<text id="ytitle" font-size="85.7" transform="translate(96.01 935.81) rotate(-90) scale(1.0128 1)">Intensity (a.u.)</text>
<g id="xtitle">
<text x="887.3" y="1504" font-size="89.5">2</text>
<text class="sym" font-size="89.4" transform="translate(938.4 1504.1) scale(1.022 1) skewX(-17)">Θ</text>
<text class="sym" transform="translate(1027.4 1502.4) scale(0.91 1)"><tspan x="0" y="0" font-size="89.2">(</tspan><tspan x="31.6" y="-6.8" font-size="84">°</tspan><tspan x="69.3" y="0" font-size="89.2">)</tspan></text>
</g>
<g id="markers" shape-rendering="crispEdges">
<polygon points="436.5,377 454.4,399 436.5,421 418.6,399"/>
<polygon points="679.5,131 697.4,153 679.5,175 661.6,153"/>
<polygon points="749.5,157 767.4,179 749.5,201 731.6,179"/>
<polygon points="891.5,436 909.4,458 891.5,480 873.6,458"/>
<polygon points="1122.5,417 1140.4,439 1122.5,461 1104.6,439"/>
<polygon points="1243.5,273 1261.4,295 1243.5,317 1225.6,295"/>
<polygon points="1470.5,448 1488.4,470 1470.5,492 1452.6,470"/>
<polygon points="1520.5,431 1538.4,453 1520.5,475 1502.6,453"/>
<polygon points="441.5,997 459.4,1019 441.5,1041 423.6,1019"/>
<polygon points="684.5,661 702.4,683 684.5,705 666.6,683"/>
<polygon points="757.5,698 775.4,720 757.5,742 739.6,720"/>
<polygon points="890.5,1024 908.4,1046 890.5,1068 872.6,1046"/>
<polygon points="1124.5,986 1142.4,1008 1124.5,1030 1106.6,1008"/>
<polygon points="1243.5,856 1261.4,878 1243.5,900 1225.6,878"/>
<polygon points="1472.5,1050 1490.4,1072 1472.5,1094 1454.6,1072"/>
<polygon points="1523.5,1033 1541.4,1055 1523.5,1077 1505.6,1055"/>
<polygon points="1461.5,687 1479.4,709 1461.5,731 1443.6,709"/>
<circle cx="504.5" cy="390.2" r="13.4"/>
<circle cx="724.6" cy="339.5" r="13.4"/>
<circle cx="1210.5" cy="413.4" r="13.4"/>
<circle cx="1730.4" cy="547.4" r="13.4"/>
<circle cx="509.5" cy="1048.7" r="13.4"/>
<circle cx="721.4" cy="1027.4" r="13.4"/>
<circle cx="1209.6" cy="1075.5" r="13.4"/>
<circle cx="1337.4" cy="1142.2" r="13.4"/>
<circle cx="1726.4" cy="1159.3" r="13.4"/>
<circle cx="1464.4" cy="860.4" r="13.4"/>
<circle cx="392.4" cy="486" r="8.2" fill="none" stroke="#000" stroke-width="2.6"/>
<circle cx="1468.6" cy="786.7" r="8.2" fill="none" stroke="#000" stroke-width="2.6"/>
<polygon points="965.3,500.5 979.6,524 965.3,547.5 951,524" fill="none" stroke="#000" stroke-width="4" stroke-linejoin="miter"/>
<polygon points="964.9,1113.4 979.2,1136.9 964.9,1160.4 950.6,1136.9" fill="none" stroke="#000" stroke-width="4" stroke-linejoin="miter"/>
<polygon points="1465.9,916.6 1480.2,940.1 1465.9,963.6 1451.6,940.1" fill="none" stroke="#000" stroke-width="4" stroke-linejoin="miter"/>
</g>
<g id="labels">
<text transform="translate(204.53 442.1) scale(0.9613 1)"><tspan x="0" y="0" font-size="67.2">PFSG</tspan></text>
<text transform="translate(204.53 1160.2) scale(0.9613 1)"><tspan x="0" y="0" font-size="67.2">FSG</tspan></text>
</g>
<g id="legend">
<text transform="translate(1507.24 728.6) scale(0.9613 1)"><tspan x="0" y="0" font-size="74" class="dsym">α</tspan><tspan x="48.92" y="2.3" font-size="84">-</tspan><tspan x="76.14" y="-0.5" font-size="67.2">Fe</tspan><tspan x="153.48" y="26.2" font-size="67">2</tspan><tspan x="191.25" y="-0.5" font-size="67.2">O</tspan><tspan x="243.92" y="26.2" font-size="67">3</tspan></text>
<text transform="translate(1502.73 811.7) scale(0.9613 1)"><tspan x="0" y="0" font-size="67.2">PANI</tspan></text>
<text transform="translate(1501.89 883.6) scale(0.9613 1)"><tspan x="0" y="0" font-size="67.2">SnO</tspan><tspan x="133.04" y="26.4" font-size="67">2</tspan></text>
<text transform="translate(1501.2 966.9) scale(0.9613 1)"><tspan x="0" y="0" font-size="67.2">rGO</tspan></text>
</g>
</svg>
</body></html>
